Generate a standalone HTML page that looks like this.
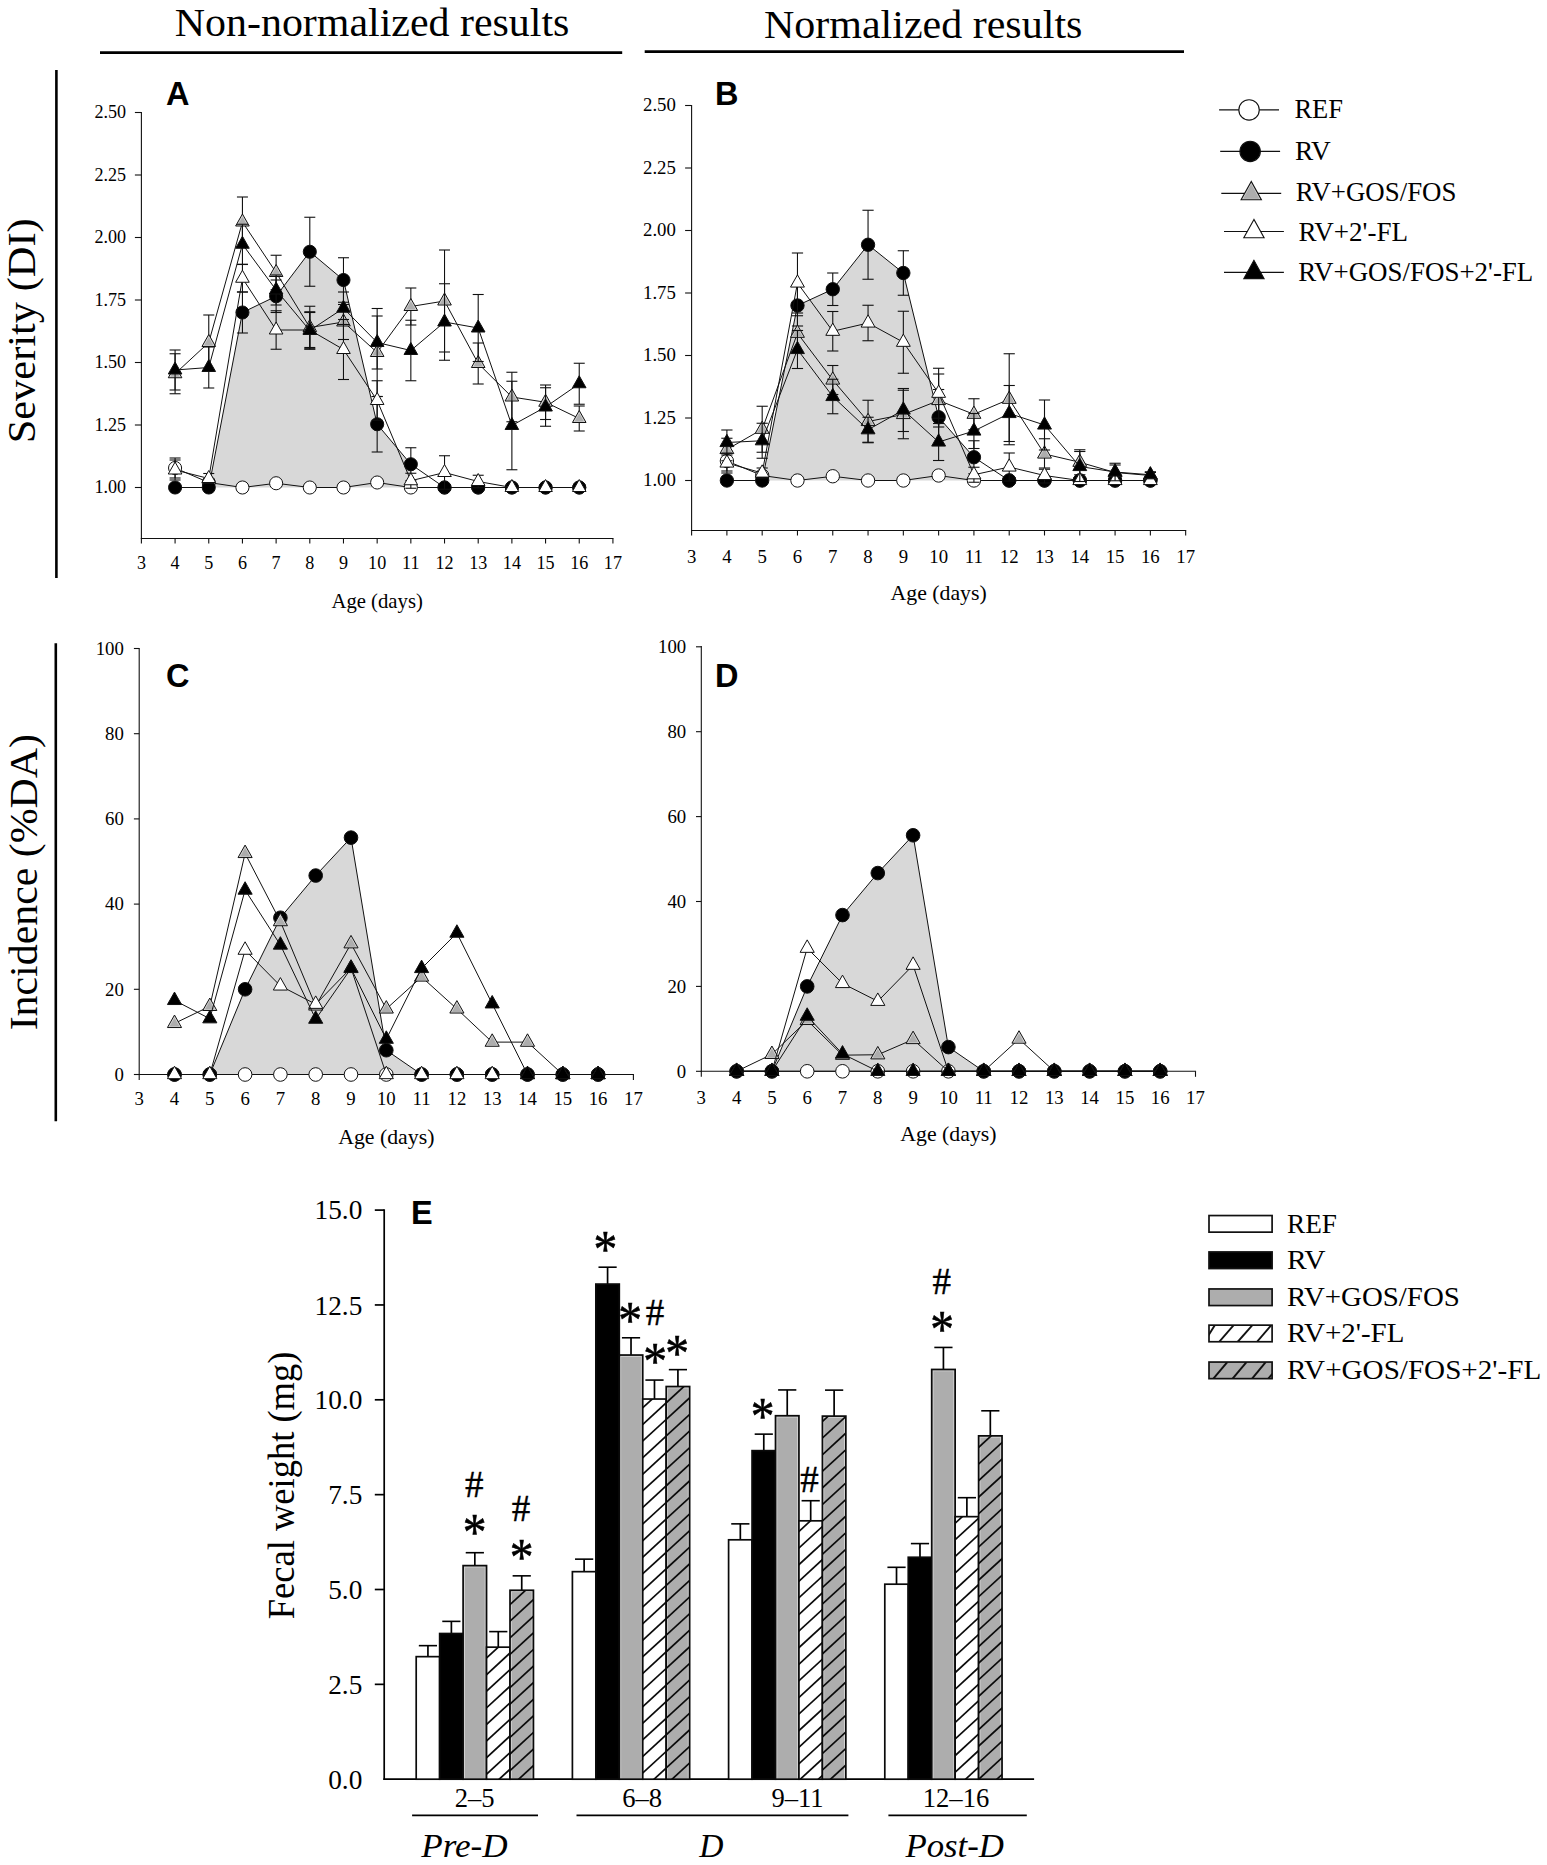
<!DOCTYPE html>
<html lang="en"><head><meta charset="utf-8"><title>Figure</title>
<style>
html,body{margin:0;padding:0;background:#fff;}
svg{display:block;}
.sf{font-family:"Liberation Serif", "Times New Roman", serif;}
.ss{font-family:"Liberation Sans", Arial, sans-serif;}
</style></head>
<body>
<svg width="1547" height="1865" viewBox="0 0 1547 1865">
<rect width="1547" height="1865" fill="#fff"/>
<text class="sf" x="174.8" y="35.5" font-size="41" text-anchor="start" textLength="394.6" lengthAdjust="spacingAndGlyphs" fill="#000">Non-normalized results</text>
<line x1="100" y1="52.6" x2="622.2" y2="52.6" stroke="#000" stroke-width="2.8" />
<text class="sf" x="764" y="37.6" font-size="41" text-anchor="start" textLength="318.4" lengthAdjust="spacingAndGlyphs" fill="#000">Normalized results</text>
<line x1="644.7" y1="51.6" x2="1184" y2="51.6" stroke="#000" stroke-width="2.8" />
<line x1="56.4" y1="70" x2="56.4" y2="578" stroke="#000" stroke-width="2.6" />
<text class="sf" x="35" y="443.3" font-size="40.8" text-anchor="start" textLength="225" lengthAdjust="spacingAndGlyphs" transform="rotate(-90 35 443.3)" fill="#000">Severity (DI)</text>
<line x1="55.8" y1="643.3" x2="55.8" y2="1121.2" stroke="#000" stroke-width="2.6" />
<text class="sf" x="36.9" y="1030.3" font-size="40.8" text-anchor="start" textLength="296.2" lengthAdjust="spacingAndGlyphs" transform="rotate(-90 36.9 1030.3)" fill="#000">Incidence (%DA)</text>
<polygon points="208.76,487.5 242.44,312.5 276.12,296.25 309.8,251.75 343.48,280 377.16,424.25 410.84,464.25 410.84,487.5" fill="#d8d8d8" stroke="none" stroke-width="1"/>
<line x1="141.4" y1="112" x2="141.4" y2="539.05" stroke="#111" stroke-width="1.1" />
<line x1="140.85" y1="538.5" x2="613.47" y2="538.5" stroke="#111" stroke-width="1.1" />
<line x1="141.4" y1="538.5" x2="141.4" y2="543.5" stroke="#111" stroke-width="1.1" />
<text class="sf" x="141.4" y="569" font-size="18.1" text-anchor="middle" fill="#000">3</text>
<line x1="175.08" y1="538.5" x2="175.08" y2="543.5" stroke="#111" stroke-width="1.1" />
<text class="sf" x="175.08" y="569" font-size="18.1" text-anchor="middle" fill="#000">4</text>
<line x1="208.76" y1="538.5" x2="208.76" y2="543.5" stroke="#111" stroke-width="1.1" />
<text class="sf" x="208.76" y="569" font-size="18.1" text-anchor="middle" fill="#000">5</text>
<line x1="242.44" y1="538.5" x2="242.44" y2="543.5" stroke="#111" stroke-width="1.1" />
<text class="sf" x="242.44" y="569" font-size="18.1" text-anchor="middle" fill="#000">6</text>
<line x1="276.12" y1="538.5" x2="276.12" y2="543.5" stroke="#111" stroke-width="1.1" />
<text class="sf" x="276.12" y="569" font-size="18.1" text-anchor="middle" fill="#000">7</text>
<line x1="309.8" y1="538.5" x2="309.8" y2="543.5" stroke="#111" stroke-width="1.1" />
<text class="sf" x="309.8" y="569" font-size="18.1" text-anchor="middle" fill="#000">8</text>
<line x1="343.48" y1="538.5" x2="343.48" y2="543.5" stroke="#111" stroke-width="1.1" />
<text class="sf" x="343.48" y="569" font-size="18.1" text-anchor="middle" fill="#000">9</text>
<line x1="377.16" y1="538.5" x2="377.16" y2="543.5" stroke="#111" stroke-width="1.1" />
<text class="sf" x="377.16" y="569" font-size="18.1" text-anchor="middle" fill="#000">10</text>
<line x1="410.84" y1="538.5" x2="410.84" y2="543.5" stroke="#111" stroke-width="1.1" />
<text class="sf" x="410.84" y="569" font-size="18.1" text-anchor="middle" fill="#000">11</text>
<line x1="444.52" y1="538.5" x2="444.52" y2="543.5" stroke="#111" stroke-width="1.1" />
<text class="sf" x="444.52" y="569" font-size="18.1" text-anchor="middle" fill="#000">12</text>
<line x1="478.2" y1="538.5" x2="478.2" y2="543.5" stroke="#111" stroke-width="1.1" />
<text class="sf" x="478.2" y="569" font-size="18.1" text-anchor="middle" fill="#000">13</text>
<line x1="511.88" y1="538.5" x2="511.88" y2="543.5" stroke="#111" stroke-width="1.1" />
<text class="sf" x="511.88" y="569" font-size="18.1" text-anchor="middle" fill="#000">14</text>
<line x1="545.56" y1="538.5" x2="545.56" y2="543.5" stroke="#111" stroke-width="1.1" />
<text class="sf" x="545.56" y="569" font-size="18.1" text-anchor="middle" fill="#000">15</text>
<line x1="579.24" y1="538.5" x2="579.24" y2="543.5" stroke="#111" stroke-width="1.1" />
<text class="sf" x="579.24" y="569" font-size="18.1" text-anchor="middle" fill="#000">16</text>
<line x1="612.92" y1="538.5" x2="612.92" y2="543.5" stroke="#111" stroke-width="1.1" />
<text class="sf" x="612.92" y="569" font-size="18.1" text-anchor="middle" fill="#000">17</text>
<line x1="134.9" y1="112.5" x2="141.4" y2="112.5" stroke="#111" stroke-width="1.1" />
<text class="sf" x="126.1" y="118.47" font-size="18.1" text-anchor="end" fill="#000">2.50</text>
<line x1="134.9" y1="175" x2="141.4" y2="175" stroke="#111" stroke-width="1.1" />
<text class="sf" x="126.1" y="180.97" font-size="18.1" text-anchor="end" fill="#000">2.25</text>
<line x1="134.9" y1="237.5" x2="141.4" y2="237.5" stroke="#111" stroke-width="1.1" />
<text class="sf" x="126.1" y="243.47" font-size="18.1" text-anchor="end" fill="#000">2.00</text>
<line x1="134.9" y1="300" x2="141.4" y2="300" stroke="#111" stroke-width="1.1" />
<text class="sf" x="126.1" y="305.97" font-size="18.1" text-anchor="end" fill="#000">1.75</text>
<line x1="134.9" y1="362.5" x2="141.4" y2="362.5" stroke="#111" stroke-width="1.1" />
<text class="sf" x="126.1" y="368.47" font-size="18.1" text-anchor="end" fill="#000">1.50</text>
<line x1="134.9" y1="425" x2="141.4" y2="425" stroke="#111" stroke-width="1.1" />
<text class="sf" x="126.1" y="430.97" font-size="18.1" text-anchor="end" fill="#000">1.25</text>
<line x1="134.9" y1="487.5" x2="141.4" y2="487.5" stroke="#111" stroke-width="1.1" />
<text class="sf" x="126.1" y="493.47" font-size="18.1" text-anchor="end" fill="#000">1.00</text>
<text class="sf" x="377.16" y="608" font-size="20.7" text-anchor="middle" fill="#000">Age (days)</text>
<text class="ss" x="165.9" y="105.4" font-size="32.5" text-anchor="start" font-weight="bold" fill="#000">A</text>
<polyline points="175.08,468 208.76,482.5 242.44,487.5 276.12,483.25 309.8,487.5 343.48,487.5 377.16,482.5 410.84,487.5 444.52,487.5 478.2,487.5 511.88,487.5 545.56,487.5 579.24,487.5" fill="none" stroke="#111" stroke-width="1.0" stroke-linejoin="round"/>
<line x1="175.08" y1="458" x2="175.08" y2="478" stroke="#111" stroke-width="1.1" />
<line x1="169.58" y1="458" x2="180.58" y2="458" stroke="#111" stroke-width="1.1" />
<line x1="169.58" y1="478" x2="180.58" y2="478" stroke="#111" stroke-width="1.1" />
<line x1="208.76" y1="478.75" x2="208.76" y2="486.25" stroke="#111" stroke-width="1.1" />
<line x1="203.26" y1="478.75" x2="214.26" y2="478.75" stroke="#111" stroke-width="1.1" />
<line x1="203.26" y1="486.25" x2="214.26" y2="486.25" stroke="#111" stroke-width="1.1" />
<circle cx="175.08" cy="468" r="6.55" fill="#fff" stroke="#111" stroke-width="1.0"/>
<circle cx="208.76" cy="482.5" r="6.55" fill="#fff" stroke="#111" stroke-width="1.0"/>
<circle cx="242.44" cy="487.5" r="6.55" fill="#fff" stroke="#111" stroke-width="1.0"/>
<circle cx="276.12" cy="483.25" r="6.55" fill="#fff" stroke="#111" stroke-width="1.0"/>
<circle cx="309.8" cy="487.5" r="6.55" fill="#fff" stroke="#111" stroke-width="1.0"/>
<circle cx="343.48" cy="487.5" r="6.55" fill="#fff" stroke="#111" stroke-width="1.0"/>
<circle cx="377.16" cy="482.5" r="6.55" fill="#fff" stroke="#111" stroke-width="1.0"/>
<circle cx="410.84" cy="487.5" r="6.55" fill="#fff" stroke="#111" stroke-width="1.0"/>
<circle cx="444.52" cy="487.5" r="6.55" fill="#fff" stroke="#111" stroke-width="1.0"/>
<circle cx="478.2" cy="487.5" r="6.55" fill="#fff" stroke="#111" stroke-width="1.0"/>
<circle cx="511.88" cy="487.5" r="6.55" fill="#fff" stroke="#111" stroke-width="1.0"/>
<circle cx="545.56" cy="487.5" r="6.55" fill="#fff" stroke="#111" stroke-width="1.0"/>
<circle cx="579.24" cy="487.5" r="6.55" fill="#fff" stroke="#111" stroke-width="1.0"/>
<polyline points="175.08,487.5 208.76,487.5 242.44,312.5 276.12,296.25 309.8,251.75 343.48,280 377.16,424.25 410.84,464.25 444.52,487.5 478.2,487.5 511.88,487.5 545.56,487.5 579.24,487.5" fill="none" stroke="#111" stroke-width="1.0" stroke-linejoin="round"/>
<line x1="242.44" y1="292" x2="242.44" y2="333" stroke="#111" stroke-width="1.1" />
<line x1="236.94" y1="292" x2="247.94" y2="292" stroke="#111" stroke-width="1.1" />
<line x1="236.94" y1="333" x2="247.94" y2="333" stroke="#111" stroke-width="1.1" />
<line x1="276.12" y1="280" x2="276.12" y2="312.5" stroke="#111" stroke-width="1.1" />
<line x1="270.62" y1="280" x2="281.62" y2="280" stroke="#111" stroke-width="1.1" />
<line x1="270.62" y1="312.5" x2="281.62" y2="312.5" stroke="#111" stroke-width="1.1" />
<line x1="309.8" y1="217.25" x2="309.8" y2="286.25" stroke="#111" stroke-width="1.1" />
<line x1="304.3" y1="217.25" x2="315.3" y2="217.25" stroke="#111" stroke-width="1.1" />
<line x1="304.3" y1="286.25" x2="315.3" y2="286.25" stroke="#111" stroke-width="1.1" />
<line x1="343.48" y1="257.75" x2="343.48" y2="302.25" stroke="#111" stroke-width="1.1" />
<line x1="337.98" y1="257.75" x2="348.98" y2="257.75" stroke="#111" stroke-width="1.1" />
<line x1="337.98" y1="302.25" x2="348.98" y2="302.25" stroke="#111" stroke-width="1.1" />
<line x1="377.16" y1="396.5" x2="377.16" y2="452" stroke="#111" stroke-width="1.1" />
<line x1="371.66" y1="396.5" x2="382.66" y2="396.5" stroke="#111" stroke-width="1.1" />
<line x1="371.66" y1="452" x2="382.66" y2="452" stroke="#111" stroke-width="1.1" />
<line x1="410.84" y1="447.75" x2="410.84" y2="480.75" stroke="#111" stroke-width="1.1" />
<line x1="405.34" y1="447.75" x2="416.34" y2="447.75" stroke="#111" stroke-width="1.1" />
<line x1="405.34" y1="480.75" x2="416.34" y2="480.75" stroke="#111" stroke-width="1.1" />
<circle cx="175.08" cy="487.5" r="6.55" fill="#000" stroke="#111" stroke-width="1.0"/>
<circle cx="208.76" cy="487.5" r="6.55" fill="#000" stroke="#111" stroke-width="1.0"/>
<circle cx="242.44" cy="312.5" r="6.55" fill="#000" stroke="#111" stroke-width="1.0"/>
<circle cx="276.12" cy="296.25" r="6.55" fill="#000" stroke="#111" stroke-width="1.0"/>
<circle cx="309.8" cy="251.75" r="6.55" fill="#000" stroke="#111" stroke-width="1.0"/>
<circle cx="343.48" cy="280" r="6.55" fill="#000" stroke="#111" stroke-width="1.0"/>
<circle cx="377.16" cy="424.25" r="6.55" fill="#000" stroke="#111" stroke-width="1.0"/>
<circle cx="410.84" cy="464.25" r="6.55" fill="#000" stroke="#111" stroke-width="1.0"/>
<circle cx="444.52" cy="487.5" r="6.55" fill="#000" stroke="#111" stroke-width="1.0"/>
<circle cx="478.2" cy="487.5" r="6.55" fill="#000" stroke="#111" stroke-width="1.0"/>
<circle cx="511.88" cy="487.5" r="6.55" fill="#000" stroke="#111" stroke-width="1.0"/>
<circle cx="545.56" cy="487.5" r="6.55" fill="#000" stroke="#111" stroke-width="1.0"/>
<circle cx="579.24" cy="487.5" r="6.55" fill="#000" stroke="#111" stroke-width="1.0"/>
<polyline points="175.08,373.75 208.76,342.5 242.44,222 276.12,272.5 309.8,327.5 343.48,322 377.16,352.5 410.84,306.5 444.52,301 478.2,363.5 511.88,397 545.56,402.25 579.24,418.5" fill="none" stroke="#111" stroke-width="1.0" stroke-linejoin="round"/>
<line x1="175.08" y1="353.75" x2="175.08" y2="393.75" stroke="#111" stroke-width="1.1" />
<line x1="169.58" y1="353.75" x2="180.58" y2="353.75" stroke="#111" stroke-width="1.1" />
<line x1="169.58" y1="393.75" x2="180.58" y2="393.75" stroke="#111" stroke-width="1.1" />
<line x1="208.76" y1="315" x2="208.76" y2="370" stroke="#111" stroke-width="1.1" />
<line x1="203.26" y1="315" x2="214.26" y2="315" stroke="#111" stroke-width="1.1" />
<line x1="203.26" y1="370" x2="214.26" y2="370" stroke="#111" stroke-width="1.1" />
<line x1="242.44" y1="197" x2="242.44" y2="247" stroke="#111" stroke-width="1.1" />
<line x1="236.94" y1="197" x2="247.94" y2="197" stroke="#111" stroke-width="1.1" />
<line x1="236.94" y1="247" x2="247.94" y2="247" stroke="#111" stroke-width="1.1" />
<line x1="276.12" y1="255.25" x2="276.12" y2="289.75" stroke="#111" stroke-width="1.1" />
<line x1="270.62" y1="255.25" x2="281.62" y2="255.25" stroke="#111" stroke-width="1.1" />
<line x1="270.62" y1="289.75" x2="281.62" y2="289.75" stroke="#111" stroke-width="1.1" />
<line x1="309.8" y1="306.25" x2="309.8" y2="348.75" stroke="#111" stroke-width="1.1" />
<line x1="304.3" y1="306.25" x2="315.3" y2="306.25" stroke="#111" stroke-width="1.1" />
<line x1="304.3" y1="348.75" x2="315.3" y2="348.75" stroke="#111" stroke-width="1.1" />
<line x1="343.48" y1="304.5" x2="343.48" y2="339.5" stroke="#111" stroke-width="1.1" />
<line x1="337.98" y1="304.5" x2="348.98" y2="304.5" stroke="#111" stroke-width="1.1" />
<line x1="337.98" y1="339.5" x2="348.98" y2="339.5" stroke="#111" stroke-width="1.1" />
<line x1="377.16" y1="308.5" x2="377.16" y2="396.5" stroke="#111" stroke-width="1.1" />
<line x1="371.66" y1="308.5" x2="382.66" y2="308.5" stroke="#111" stroke-width="1.1" />
<line x1="371.66" y1="396.5" x2="382.66" y2="396.5" stroke="#111" stroke-width="1.1" />
<line x1="410.84" y1="288" x2="410.84" y2="325" stroke="#111" stroke-width="1.1" />
<line x1="405.34" y1="288" x2="416.34" y2="288" stroke="#111" stroke-width="1.1" />
<line x1="405.34" y1="325" x2="416.34" y2="325" stroke="#111" stroke-width="1.1" />
<line x1="444.52" y1="250" x2="444.52" y2="352" stroke="#111" stroke-width="1.1" />
<line x1="439.02" y1="250" x2="450.02" y2="250" stroke="#111" stroke-width="1.1" />
<line x1="439.02" y1="352" x2="450.02" y2="352" stroke="#111" stroke-width="1.1" />
<line x1="478.2" y1="343" x2="478.2" y2="384" stroke="#111" stroke-width="1.1" />
<line x1="472.7" y1="343" x2="483.7" y2="343" stroke="#111" stroke-width="1.1" />
<line x1="472.7" y1="384" x2="483.7" y2="384" stroke="#111" stroke-width="1.1" />
<line x1="511.88" y1="372.25" x2="511.88" y2="421.75" stroke="#111" stroke-width="1.1" />
<line x1="506.38" y1="372.25" x2="517.38" y2="372.25" stroke="#111" stroke-width="1.1" />
<line x1="506.38" y1="421.75" x2="517.38" y2="421.75" stroke="#111" stroke-width="1.1" />
<line x1="545.56" y1="385" x2="545.56" y2="419.5" stroke="#111" stroke-width="1.1" />
<line x1="540.06" y1="385" x2="551.06" y2="385" stroke="#111" stroke-width="1.1" />
<line x1="540.06" y1="419.5" x2="551.06" y2="419.5" stroke="#111" stroke-width="1.1" />
<line x1="579.24" y1="406" x2="579.24" y2="431" stroke="#111" stroke-width="1.1" />
<line x1="573.74" y1="406" x2="584.74" y2="406" stroke="#111" stroke-width="1.1" />
<line x1="573.74" y1="431" x2="584.74" y2="431" stroke="#111" stroke-width="1.1" />
<polygon points="175.08,365.75 168.28,377.75 181.88,377.75" fill="#d4d4d4" stroke="#111" stroke-width="1.0"/>
<polygon points="175.08,368.45 170.41,376.7 179.76,376.7" fill="#adadad" stroke="none" stroke-width="1"/>
<polygon points="208.76,334.5 201.96,346.5 215.56,346.5" fill="#d4d4d4" stroke="#111" stroke-width="1.0"/>
<polygon points="208.76,337.2 204.08,345.45 213.44,345.45" fill="#adadad" stroke="none" stroke-width="1"/>
<polygon points="242.44,214 235.64,226 249.24,226" fill="#d4d4d4" stroke="#111" stroke-width="1.0"/>
<polygon points="242.44,216.7 237.76,224.95 247.12,224.95" fill="#adadad" stroke="none" stroke-width="1"/>
<polygon points="276.12,264.5 269.32,276.5 282.92,276.5" fill="#d4d4d4" stroke="#111" stroke-width="1.0"/>
<polygon points="276.12,267.2 271.44,275.45 280.8,275.45" fill="#adadad" stroke="none" stroke-width="1"/>
<polygon points="309.8,319.5 303,331.5 316.6,331.5" fill="#d4d4d4" stroke="#111" stroke-width="1.0"/>
<polygon points="309.8,322.2 305.12,330.45 314.48,330.45" fill="#adadad" stroke="none" stroke-width="1"/>
<polygon points="343.48,314 336.68,326 350.28,326" fill="#d4d4d4" stroke="#111" stroke-width="1.0"/>
<polygon points="343.48,316.7 338.81,324.95 348.16,324.95" fill="#adadad" stroke="none" stroke-width="1"/>
<polygon points="377.16,344.5 370.36,356.5 383.96,356.5" fill="#d4d4d4" stroke="#111" stroke-width="1.0"/>
<polygon points="377.16,347.2 372.48,355.45 381.83,355.45" fill="#adadad" stroke="none" stroke-width="1"/>
<polygon points="410.84,298.5 404.04,310.5 417.64,310.5" fill="#d4d4d4" stroke="#111" stroke-width="1.0"/>
<polygon points="410.84,301.2 406.17,309.45 415.52,309.45" fill="#adadad" stroke="none" stroke-width="1"/>
<polygon points="444.52,293 437.72,305 451.32,305" fill="#d4d4d4" stroke="#111" stroke-width="1.0"/>
<polygon points="444.52,295.7 439.84,303.95 449.19,303.95" fill="#adadad" stroke="none" stroke-width="1"/>
<polygon points="478.2,355.5 471.4,367.5 485,367.5" fill="#d4d4d4" stroke="#111" stroke-width="1.0"/>
<polygon points="478.2,358.2 473.53,366.45 482.88,366.45" fill="#adadad" stroke="none" stroke-width="1"/>
<polygon points="511.88,389 505.08,401 518.68,401" fill="#d4d4d4" stroke="#111" stroke-width="1.0"/>
<polygon points="511.88,391.7 507.2,399.95 516.55,399.95" fill="#adadad" stroke="none" stroke-width="1"/>
<polygon points="545.56,394.25 538.76,406.25 552.36,406.25" fill="#d4d4d4" stroke="#111" stroke-width="1.0"/>
<polygon points="545.56,396.95 540.88,405.2 550.23,405.2" fill="#adadad" stroke="none" stroke-width="1"/>
<polygon points="579.24,410.5 572.44,422.5 586.04,422.5" fill="#d4d4d4" stroke="#111" stroke-width="1.0"/>
<polygon points="579.24,413.2 574.57,421.45 583.91,421.45" fill="#adadad" stroke="none" stroke-width="1"/>
<polyline points="175.08,470 208.76,478.5 242.44,278.25 276.12,330 309.8,330 343.48,349.5 377.16,400.5 410.84,480.75 444.52,472.5 478.2,481.5 511.88,487.5 545.56,487.5 579.24,487.5" fill="none" stroke="#111" stroke-width="1.0" stroke-linejoin="round"/>
<line x1="175.08" y1="460" x2="175.08" y2="480" stroke="#111" stroke-width="1.1" />
<line x1="169.58" y1="460" x2="180.58" y2="460" stroke="#111" stroke-width="1.1" />
<line x1="169.58" y1="480" x2="180.58" y2="480" stroke="#111" stroke-width="1.1" />
<line x1="208.76" y1="473.5" x2="208.76" y2="483.5" stroke="#111" stroke-width="1.1" />
<line x1="203.26" y1="473.5" x2="214.26" y2="473.5" stroke="#111" stroke-width="1.1" />
<line x1="203.26" y1="483.5" x2="214.26" y2="483.5" stroke="#111" stroke-width="1.1" />
<line x1="242.44" y1="264.5" x2="242.44" y2="292" stroke="#111" stroke-width="1.1" />
<line x1="236.94" y1="264.5" x2="247.94" y2="264.5" stroke="#111" stroke-width="1.1" />
<line x1="236.94" y1="292" x2="247.94" y2="292" stroke="#111" stroke-width="1.1" />
<line x1="276.12" y1="310.75" x2="276.12" y2="349.25" stroke="#111" stroke-width="1.1" />
<line x1="270.62" y1="310.75" x2="281.62" y2="310.75" stroke="#111" stroke-width="1.1" />
<line x1="270.62" y1="349.25" x2="281.62" y2="349.25" stroke="#111" stroke-width="1.1" />
<line x1="309.8" y1="312.5" x2="309.8" y2="347.5" stroke="#111" stroke-width="1.1" />
<line x1="304.3" y1="312.5" x2="315.3" y2="312.5" stroke="#111" stroke-width="1.1" />
<line x1="304.3" y1="347.5" x2="315.3" y2="347.5" stroke="#111" stroke-width="1.1" />
<line x1="343.48" y1="319.5" x2="343.48" y2="379.5" stroke="#111" stroke-width="1.1" />
<line x1="337.98" y1="319.5" x2="348.98" y2="319.5" stroke="#111" stroke-width="1.1" />
<line x1="337.98" y1="379.5" x2="348.98" y2="379.5" stroke="#111" stroke-width="1.1" />
<line x1="377.16" y1="380.75" x2="377.16" y2="420.25" stroke="#111" stroke-width="1.1" />
<line x1="371.66" y1="380.75" x2="382.66" y2="380.75" stroke="#111" stroke-width="1.1" />
<line x1="371.66" y1="420.25" x2="382.66" y2="420.25" stroke="#111" stroke-width="1.1" />
<line x1="410.84" y1="473.25" x2="410.84" y2="488.25" stroke="#111" stroke-width="1.1" />
<line x1="405.34" y1="473.25" x2="416.34" y2="473.25" stroke="#111" stroke-width="1.1" />
<line x1="405.34" y1="488.25" x2="416.34" y2="488.25" stroke="#111" stroke-width="1.1" />
<line x1="444.52" y1="455.75" x2="444.52" y2="489.25" stroke="#111" stroke-width="1.1" />
<line x1="439.02" y1="455.75" x2="450.02" y2="455.75" stroke="#111" stroke-width="1.1" />
<line x1="439.02" y1="489.25" x2="450.02" y2="489.25" stroke="#111" stroke-width="1.1" />
<line x1="478.2" y1="475.25" x2="478.2" y2="487.75" stroke="#111" stroke-width="1.1" />
<line x1="472.7" y1="475.25" x2="483.7" y2="475.25" stroke="#111" stroke-width="1.1" />
<line x1="472.7" y1="487.75" x2="483.7" y2="487.75" stroke="#111" stroke-width="1.1" />
<polygon points="175.08,462 168.28,474 181.88,474" fill="#fff" stroke="#111" stroke-width="1.0"/>
<polygon points="208.76,470.5 201.96,482.5 215.56,482.5" fill="#fff" stroke="#111" stroke-width="1.0"/>
<polygon points="242.44,270.25 235.64,282.25 249.24,282.25" fill="#fff" stroke="#111" stroke-width="1.0"/>
<polygon points="276.12,322 269.32,334 282.92,334" fill="#fff" stroke="#111" stroke-width="1.0"/>
<polygon points="309.8,322 303,334 316.6,334" fill="#fff" stroke="#111" stroke-width="1.0"/>
<polygon points="343.48,341.5 336.68,353.5 350.28,353.5" fill="#fff" stroke="#111" stroke-width="1.0"/>
<polygon points="377.16,392.5 370.36,404.5 383.96,404.5" fill="#fff" stroke="#111" stroke-width="1.0"/>
<polygon points="410.84,472.75 404.04,484.75 417.64,484.75" fill="#fff" stroke="#111" stroke-width="1.0"/>
<polygon points="444.52,464.5 437.72,476.5 451.32,476.5" fill="#fff" stroke="#111" stroke-width="1.0"/>
<polygon points="478.2,473.5 471.4,485.5 485,485.5" fill="#fff" stroke="#111" stroke-width="1.0"/>
<polygon points="511.88,479.5 505.08,491.5 518.68,491.5" fill="#fff" stroke="#111" stroke-width="1.0"/>
<polygon points="545.56,479.5 538.76,491.5 552.36,491.5" fill="#fff" stroke="#111" stroke-width="1.0"/>
<polygon points="579.24,479.5 572.44,491.5 586.04,491.5" fill="#fff" stroke="#111" stroke-width="1.0"/>
<polyline points="175.08,370 208.76,367.5 242.44,244.25 276.12,290 309.8,330.5 343.48,308.25 377.16,342.5 410.84,350.5 444.52,322 478.2,328 511.88,425.5 545.56,407 579.24,383.75" fill="none" stroke="#111" stroke-width="1.0" stroke-linejoin="round"/>
<line x1="175.08" y1="350" x2="175.08" y2="390" stroke="#111" stroke-width="1.1" />
<line x1="169.58" y1="350" x2="180.58" y2="350" stroke="#111" stroke-width="1.1" />
<line x1="169.58" y1="390" x2="180.58" y2="390" stroke="#111" stroke-width="1.1" />
<line x1="208.76" y1="347" x2="208.76" y2="388" stroke="#111" stroke-width="1.1" />
<line x1="203.26" y1="347" x2="214.26" y2="347" stroke="#111" stroke-width="1.1" />
<line x1="203.26" y1="388" x2="214.26" y2="388" stroke="#111" stroke-width="1.1" />
<line x1="242.44" y1="224.25" x2="242.44" y2="264.25" stroke="#111" stroke-width="1.1" />
<line x1="236.94" y1="224.25" x2="247.94" y2="224.25" stroke="#111" stroke-width="1.1" />
<line x1="236.94" y1="264.25" x2="247.94" y2="264.25" stroke="#111" stroke-width="1.1" />
<line x1="276.12" y1="275" x2="276.12" y2="305" stroke="#111" stroke-width="1.1" />
<line x1="270.62" y1="275" x2="281.62" y2="275" stroke="#111" stroke-width="1.1" />
<line x1="270.62" y1="305" x2="281.62" y2="305" stroke="#111" stroke-width="1.1" />
<line x1="309.8" y1="311.75" x2="309.8" y2="349.25" stroke="#111" stroke-width="1.1" />
<line x1="304.3" y1="311.75" x2="315.3" y2="311.75" stroke="#111" stroke-width="1.1" />
<line x1="304.3" y1="349.25" x2="315.3" y2="349.25" stroke="#111" stroke-width="1.1" />
<line x1="343.48" y1="292" x2="343.48" y2="324.5" stroke="#111" stroke-width="1.1" />
<line x1="337.98" y1="292" x2="348.98" y2="292" stroke="#111" stroke-width="1.1" />
<line x1="337.98" y1="324.5" x2="348.98" y2="324.5" stroke="#111" stroke-width="1.1" />
<line x1="377.16" y1="316" x2="377.16" y2="369" stroke="#111" stroke-width="1.1" />
<line x1="371.66" y1="316" x2="382.66" y2="316" stroke="#111" stroke-width="1.1" />
<line x1="371.66" y1="369" x2="382.66" y2="369" stroke="#111" stroke-width="1.1" />
<line x1="410.84" y1="320.25" x2="410.84" y2="380.75" stroke="#111" stroke-width="1.1" />
<line x1="405.34" y1="320.25" x2="416.34" y2="320.25" stroke="#111" stroke-width="1.1" />
<line x1="405.34" y1="380.75" x2="416.34" y2="380.75" stroke="#111" stroke-width="1.1" />
<line x1="444.52" y1="283.75" x2="444.52" y2="360.25" stroke="#111" stroke-width="1.1" />
<line x1="439.02" y1="283.75" x2="450.02" y2="283.75" stroke="#111" stroke-width="1.1" />
<line x1="439.02" y1="360.25" x2="450.02" y2="360.25" stroke="#111" stroke-width="1.1" />
<line x1="478.2" y1="294.5" x2="478.2" y2="361.5" stroke="#111" stroke-width="1.1" />
<line x1="472.7" y1="294.5" x2="483.7" y2="294.5" stroke="#111" stroke-width="1.1" />
<line x1="472.7" y1="361.5" x2="483.7" y2="361.5" stroke="#111" stroke-width="1.1" />
<line x1="511.88" y1="381.25" x2="511.88" y2="469.75" stroke="#111" stroke-width="1.1" />
<line x1="506.38" y1="381.25" x2="517.38" y2="381.25" stroke="#111" stroke-width="1.1" />
<line x1="506.38" y1="469.75" x2="517.38" y2="469.75" stroke="#111" stroke-width="1.1" />
<line x1="545.56" y1="387.75" x2="545.56" y2="426.25" stroke="#111" stroke-width="1.1" />
<line x1="540.06" y1="387.75" x2="551.06" y2="387.75" stroke="#111" stroke-width="1.1" />
<line x1="540.06" y1="426.25" x2="551.06" y2="426.25" stroke="#111" stroke-width="1.1" />
<line x1="579.24" y1="363.25" x2="579.24" y2="404.25" stroke="#111" stroke-width="1.1" />
<line x1="573.74" y1="363.25" x2="584.74" y2="363.25" stroke="#111" stroke-width="1.1" />
<line x1="573.74" y1="404.25" x2="584.74" y2="404.25" stroke="#111" stroke-width="1.1" />
<polygon points="175.08,362 168.28,374 181.88,374" fill="#000" stroke="#111" stroke-width="1.0"/>
<polygon points="208.76,359.5 201.96,371.5 215.56,371.5" fill="#000" stroke="#111" stroke-width="1.0"/>
<polygon points="242.44,236.25 235.64,248.25 249.24,248.25" fill="#000" stroke="#111" stroke-width="1.0"/>
<polygon points="276.12,282 269.32,294 282.92,294" fill="#000" stroke="#111" stroke-width="1.0"/>
<polygon points="309.8,322.5 303,334.5 316.6,334.5" fill="#000" stroke="#111" stroke-width="1.0"/>
<polygon points="343.48,300.25 336.68,312.25 350.28,312.25" fill="#000" stroke="#111" stroke-width="1.0"/>
<polygon points="377.16,334.5 370.36,346.5 383.96,346.5" fill="#000" stroke="#111" stroke-width="1.0"/>
<polygon points="410.84,342.5 404.04,354.5 417.64,354.5" fill="#000" stroke="#111" stroke-width="1.0"/>
<polygon points="444.52,314 437.72,326 451.32,326" fill="#000" stroke="#111" stroke-width="1.0"/>
<polygon points="478.2,320 471.4,332 485,332" fill="#000" stroke="#111" stroke-width="1.0"/>
<polygon points="511.88,417.5 505.08,429.5 518.68,429.5" fill="#000" stroke="#111" stroke-width="1.0"/>
<polygon points="545.56,399 538.76,411 552.36,411" fill="#000" stroke="#111" stroke-width="1.0"/>
<polygon points="579.24,375.75 572.44,387.75 586.04,387.75" fill="#000" stroke="#111" stroke-width="1.0"/>
<polygon points="762.18,480.5 797.47,305.5 832.76,289.25 868.05,244.75 903.34,273 938.63,417.25 973.92,457.25 973.92,480.5" fill="#d8d8d8" stroke="none" stroke-width="1"/>
<line x1="691.6" y1="105" x2="691.6" y2="531.05" stroke="#111" stroke-width="1.1" />
<line x1="691.05" y1="530.5" x2="1186.21" y2="530.5" stroke="#111" stroke-width="1.1" />
<line x1="691.6" y1="530.5" x2="691.6" y2="535.5" stroke="#111" stroke-width="1.1" />
<text class="sf" x="691.6" y="563" font-size="18.8" text-anchor="middle" fill="#000">3</text>
<line x1="726.89" y1="530.5" x2="726.89" y2="535.5" stroke="#111" stroke-width="1.1" />
<text class="sf" x="726.89" y="563" font-size="18.8" text-anchor="middle" fill="#000">4</text>
<line x1="762.18" y1="530.5" x2="762.18" y2="535.5" stroke="#111" stroke-width="1.1" />
<text class="sf" x="762.18" y="563" font-size="18.8" text-anchor="middle" fill="#000">5</text>
<line x1="797.47" y1="530.5" x2="797.47" y2="535.5" stroke="#111" stroke-width="1.1" />
<text class="sf" x="797.47" y="563" font-size="18.8" text-anchor="middle" fill="#000">6</text>
<line x1="832.76" y1="530.5" x2="832.76" y2="535.5" stroke="#111" stroke-width="1.1" />
<text class="sf" x="832.76" y="563" font-size="18.8" text-anchor="middle" fill="#000">7</text>
<line x1="868.05" y1="530.5" x2="868.05" y2="535.5" stroke="#111" stroke-width="1.1" />
<text class="sf" x="868.05" y="563" font-size="18.8" text-anchor="middle" fill="#000">8</text>
<line x1="903.34" y1="530.5" x2="903.34" y2="535.5" stroke="#111" stroke-width="1.1" />
<text class="sf" x="903.34" y="563" font-size="18.8" text-anchor="middle" fill="#000">9</text>
<line x1="938.63" y1="530.5" x2="938.63" y2="535.5" stroke="#111" stroke-width="1.1" />
<text class="sf" x="938.63" y="563" font-size="18.8" text-anchor="middle" fill="#000">10</text>
<line x1="973.92" y1="530.5" x2="973.92" y2="535.5" stroke="#111" stroke-width="1.1" />
<text class="sf" x="973.92" y="563" font-size="18.8" text-anchor="middle" fill="#000">11</text>
<line x1="1009.21" y1="530.5" x2="1009.21" y2="535.5" stroke="#111" stroke-width="1.1" />
<text class="sf" x="1009.21" y="563" font-size="18.8" text-anchor="middle" fill="#000">12</text>
<line x1="1044.5" y1="530.5" x2="1044.5" y2="535.5" stroke="#111" stroke-width="1.1" />
<text class="sf" x="1044.5" y="563" font-size="18.8" text-anchor="middle" fill="#000">13</text>
<line x1="1079.79" y1="530.5" x2="1079.79" y2="535.5" stroke="#111" stroke-width="1.1" />
<text class="sf" x="1079.79" y="563" font-size="18.8" text-anchor="middle" fill="#000">14</text>
<line x1="1115.08" y1="530.5" x2="1115.08" y2="535.5" stroke="#111" stroke-width="1.1" />
<text class="sf" x="1115.08" y="563" font-size="18.8" text-anchor="middle" fill="#000">15</text>
<line x1="1150.37" y1="530.5" x2="1150.37" y2="535.5" stroke="#111" stroke-width="1.1" />
<text class="sf" x="1150.37" y="563" font-size="18.8" text-anchor="middle" fill="#000">16</text>
<line x1="1185.66" y1="530.5" x2="1185.66" y2="535.5" stroke="#111" stroke-width="1.1" />
<text class="sf" x="1185.66" y="563" font-size="18.8" text-anchor="middle" fill="#000">17</text>
<line x1="685.1" y1="105.5" x2="691.6" y2="105.5" stroke="#111" stroke-width="1.1" />
<text class="sf" x="675.9" y="111.1" font-size="18.8" text-anchor="end" fill="#000">2.50</text>
<line x1="685.1" y1="168" x2="691.6" y2="168" stroke="#111" stroke-width="1.1" />
<text class="sf" x="675.9" y="173.6" font-size="18.8" text-anchor="end" fill="#000">2.25</text>
<line x1="685.1" y1="230.5" x2="691.6" y2="230.5" stroke="#111" stroke-width="1.1" />
<text class="sf" x="675.9" y="236.1" font-size="18.8" text-anchor="end" fill="#000">2.00</text>
<line x1="685.1" y1="293" x2="691.6" y2="293" stroke="#111" stroke-width="1.1" />
<text class="sf" x="675.9" y="298.6" font-size="18.8" text-anchor="end" fill="#000">1.75</text>
<line x1="685.1" y1="355.5" x2="691.6" y2="355.5" stroke="#111" stroke-width="1.1" />
<text class="sf" x="675.9" y="361.1" font-size="18.8" text-anchor="end" fill="#000">1.50</text>
<line x1="685.1" y1="418" x2="691.6" y2="418" stroke="#111" stroke-width="1.1" />
<text class="sf" x="675.9" y="423.6" font-size="18.8" text-anchor="end" fill="#000">1.25</text>
<line x1="685.1" y1="480.5" x2="691.6" y2="480.5" stroke="#111" stroke-width="1.1" />
<text class="sf" x="675.9" y="486.1" font-size="18.8" text-anchor="end" fill="#000">1.00</text>
<text class="sf" x="938.63" y="600.4" font-size="21.8" text-anchor="middle" fill="#000">Age (days)</text>
<text class="ss" x="715" y="105.3" font-size="32.5" text-anchor="start" font-weight="bold" fill="#000">B</text>
<polyline points="726.89,461 762.18,475.5 797.47,480.5 832.76,476.25 868.05,480.5 903.34,480.5 938.63,475.5 973.92,480.5 1009.21,480.5 1044.5,480.5 1079.79,480.5 1115.08,480.5 1150.37,480.5" fill="none" stroke="#111" stroke-width="1.0" stroke-linejoin="round"/>
<line x1="726.89" y1="451" x2="726.89" y2="471" stroke="#111" stroke-width="1.1" />
<line x1="721.28" y1="451" x2="732.5" y2="451" stroke="#111" stroke-width="1.1" />
<line x1="721.28" y1="471" x2="732.5" y2="471" stroke="#111" stroke-width="1.1" />
<line x1="762.18" y1="471.75" x2="762.18" y2="479.25" stroke="#111" stroke-width="1.1" />
<line x1="756.57" y1="471.75" x2="767.79" y2="471.75" stroke="#111" stroke-width="1.1" />
<line x1="756.57" y1="479.25" x2="767.79" y2="479.25" stroke="#111" stroke-width="1.1" />
<circle cx="726.89" cy="461" r="6.68" fill="#fff" stroke="#111" stroke-width="1.0"/>
<circle cx="762.18" cy="475.5" r="6.68" fill="#fff" stroke="#111" stroke-width="1.0"/>
<circle cx="797.47" cy="480.5" r="6.68" fill="#fff" stroke="#111" stroke-width="1.0"/>
<circle cx="832.76" cy="476.25" r="6.68" fill="#fff" stroke="#111" stroke-width="1.0"/>
<circle cx="868.05" cy="480.5" r="6.68" fill="#fff" stroke="#111" stroke-width="1.0"/>
<circle cx="903.34" cy="480.5" r="6.68" fill="#fff" stroke="#111" stroke-width="1.0"/>
<circle cx="938.63" cy="475.5" r="6.68" fill="#fff" stroke="#111" stroke-width="1.0"/>
<circle cx="973.92" cy="480.5" r="6.68" fill="#fff" stroke="#111" stroke-width="1.0"/>
<circle cx="1009.21" cy="480.5" r="6.68" fill="#fff" stroke="#111" stroke-width="1.0"/>
<circle cx="1044.5" cy="480.5" r="6.68" fill="#fff" stroke="#111" stroke-width="1.0"/>
<circle cx="1079.79" cy="480.5" r="6.68" fill="#fff" stroke="#111" stroke-width="1.0"/>
<circle cx="1115.08" cy="480.5" r="6.68" fill="#fff" stroke="#111" stroke-width="1.0"/>
<circle cx="1150.37" cy="480.5" r="6.68" fill="#fff" stroke="#111" stroke-width="1.0"/>
<polyline points="726.89,480.5 762.18,480.5 797.47,305.5 832.76,289.25 868.05,244.75 903.34,273 938.63,417.25 973.92,457.25 1009.21,480.5 1044.5,480.5 1079.79,480.5 1115.08,480.5 1150.37,480.5" fill="none" stroke="#111" stroke-width="1.0" stroke-linejoin="round"/>
<line x1="797.47" y1="285" x2="797.47" y2="326" stroke="#111" stroke-width="1.1" />
<line x1="791.86" y1="285" x2="803.08" y2="285" stroke="#111" stroke-width="1.1" />
<line x1="791.86" y1="326" x2="803.08" y2="326" stroke="#111" stroke-width="1.1" />
<line x1="832.76" y1="273" x2="832.76" y2="305.5" stroke="#111" stroke-width="1.1" />
<line x1="827.15" y1="273" x2="838.37" y2="273" stroke="#111" stroke-width="1.1" />
<line x1="827.15" y1="305.5" x2="838.37" y2="305.5" stroke="#111" stroke-width="1.1" />
<line x1="868.05" y1="210.25" x2="868.05" y2="279.25" stroke="#111" stroke-width="1.1" />
<line x1="862.44" y1="210.25" x2="873.66" y2="210.25" stroke="#111" stroke-width="1.1" />
<line x1="862.44" y1="279.25" x2="873.66" y2="279.25" stroke="#111" stroke-width="1.1" />
<line x1="903.34" y1="250.75" x2="903.34" y2="295.25" stroke="#111" stroke-width="1.1" />
<line x1="897.73" y1="250.75" x2="908.95" y2="250.75" stroke="#111" stroke-width="1.1" />
<line x1="897.73" y1="295.25" x2="908.95" y2="295.25" stroke="#111" stroke-width="1.1" />
<line x1="938.63" y1="389.5" x2="938.63" y2="445" stroke="#111" stroke-width="1.1" />
<line x1="933.02" y1="389.5" x2="944.24" y2="389.5" stroke="#111" stroke-width="1.1" />
<line x1="933.02" y1="445" x2="944.24" y2="445" stroke="#111" stroke-width="1.1" />
<line x1="973.92" y1="440.75" x2="973.92" y2="473.75" stroke="#111" stroke-width="1.1" />
<line x1="968.31" y1="440.75" x2="979.53" y2="440.75" stroke="#111" stroke-width="1.1" />
<line x1="968.31" y1="473.75" x2="979.53" y2="473.75" stroke="#111" stroke-width="1.1" />
<circle cx="726.89" cy="480.5" r="6.68" fill="#000" stroke="#111" stroke-width="1.0"/>
<circle cx="762.18" cy="480.5" r="6.68" fill="#000" stroke="#111" stroke-width="1.0"/>
<circle cx="797.47" cy="305.5" r="6.68" fill="#000" stroke="#111" stroke-width="1.0"/>
<circle cx="832.76" cy="289.25" r="6.68" fill="#000" stroke="#111" stroke-width="1.0"/>
<circle cx="868.05" cy="244.75" r="6.68" fill="#000" stroke="#111" stroke-width="1.0"/>
<circle cx="903.34" cy="273" r="6.68" fill="#000" stroke="#111" stroke-width="1.0"/>
<circle cx="938.63" cy="417.25" r="6.68" fill="#000" stroke="#111" stroke-width="1.0"/>
<circle cx="973.92" cy="457.25" r="6.68" fill="#000" stroke="#111" stroke-width="1.0"/>
<circle cx="1009.21" cy="480.5" r="6.68" fill="#000" stroke="#111" stroke-width="1.0"/>
<circle cx="1044.5" cy="480.5" r="6.68" fill="#000" stroke="#111" stroke-width="1.0"/>
<circle cx="1079.79" cy="480.5" r="6.68" fill="#000" stroke="#111" stroke-width="1.0"/>
<circle cx="1115.08" cy="480.5" r="6.68" fill="#000" stroke="#111" stroke-width="1.0"/>
<circle cx="1150.37" cy="480.5" r="6.68" fill="#000" stroke="#111" stroke-width="1.0"/>
<polyline points="726.89,449.5 762.18,429.25 797.47,333.25 832.76,380 868.05,421.5 903.34,414.5 938.63,400.5 973.92,414.25 1009.21,399.25 1044.5,454 1079.79,462.25 1115.08,472.5 1150.37,475.5" fill="none" stroke="#111" stroke-width="1.0" stroke-linejoin="round"/>
<line x1="726.89" y1="438.25" x2="726.89" y2="460.75" stroke="#111" stroke-width="1.1" />
<line x1="721.28" y1="438.25" x2="732.5" y2="438.25" stroke="#111" stroke-width="1.1" />
<line x1="721.28" y1="460.75" x2="732.5" y2="460.75" stroke="#111" stroke-width="1.1" />
<line x1="762.18" y1="406.25" x2="762.18" y2="452.25" stroke="#111" stroke-width="1.1" />
<line x1="756.57" y1="406.25" x2="767.79" y2="406.25" stroke="#111" stroke-width="1.1" />
<line x1="756.57" y1="452.25" x2="767.79" y2="452.25" stroke="#111" stroke-width="1.1" />
<line x1="797.47" y1="315.75" x2="797.47" y2="350.75" stroke="#111" stroke-width="1.1" />
<line x1="791.86" y1="315.75" x2="803.08" y2="315.75" stroke="#111" stroke-width="1.1" />
<line x1="791.86" y1="350.75" x2="803.08" y2="350.75" stroke="#111" stroke-width="1.1" />
<line x1="832.76" y1="365.5" x2="832.76" y2="394.5" stroke="#111" stroke-width="1.1" />
<line x1="827.15" y1="365.5" x2="838.37" y2="365.5" stroke="#111" stroke-width="1.1" />
<line x1="827.15" y1="394.5" x2="838.37" y2="394.5" stroke="#111" stroke-width="1.1" />
<line x1="868.05" y1="400.25" x2="868.05" y2="442.75" stroke="#111" stroke-width="1.1" />
<line x1="862.44" y1="400.25" x2="873.66" y2="400.25" stroke="#111" stroke-width="1.1" />
<line x1="862.44" y1="442.75" x2="873.66" y2="442.75" stroke="#111" stroke-width="1.1" />
<line x1="903.34" y1="390.25" x2="903.34" y2="438.75" stroke="#111" stroke-width="1.1" />
<line x1="897.73" y1="390.25" x2="908.95" y2="390.25" stroke="#111" stroke-width="1.1" />
<line x1="897.73" y1="438.75" x2="908.95" y2="438.75" stroke="#111" stroke-width="1.1" />
<line x1="938.63" y1="374" x2="938.63" y2="427" stroke="#111" stroke-width="1.1" />
<line x1="933.02" y1="374" x2="944.24" y2="374" stroke="#111" stroke-width="1.1" />
<line x1="933.02" y1="427" x2="944.24" y2="427" stroke="#111" stroke-width="1.1" />
<line x1="973.92" y1="398.75" x2="973.92" y2="429.75" stroke="#111" stroke-width="1.1" />
<line x1="968.31" y1="398.75" x2="979.53" y2="398.75" stroke="#111" stroke-width="1.1" />
<line x1="968.31" y1="429.75" x2="979.53" y2="429.75" stroke="#111" stroke-width="1.1" />
<line x1="1009.21" y1="353.75" x2="1009.21" y2="444.75" stroke="#111" stroke-width="1.1" />
<line x1="1003.6" y1="353.75" x2="1014.82" y2="353.75" stroke="#111" stroke-width="1.1" />
<line x1="1003.6" y1="444.75" x2="1014.82" y2="444.75" stroke="#111" stroke-width="1.1" />
<line x1="1044.5" y1="438.75" x2="1044.5" y2="469.25" stroke="#111" stroke-width="1.1" />
<line x1="1038.89" y1="438.75" x2="1050.11" y2="438.75" stroke="#111" stroke-width="1.1" />
<line x1="1038.89" y1="469.25" x2="1050.11" y2="469.25" stroke="#111" stroke-width="1.1" />
<line x1="1079.79" y1="449.75" x2="1079.79" y2="474.75" stroke="#111" stroke-width="1.1" />
<line x1="1074.18" y1="449.75" x2="1085.4" y2="449.75" stroke="#111" stroke-width="1.1" />
<line x1="1074.18" y1="474.75" x2="1085.4" y2="474.75" stroke="#111" stroke-width="1.1" />
<line x1="1115.08" y1="465" x2="1115.08" y2="480" stroke="#111" stroke-width="1.1" />
<line x1="1109.47" y1="465" x2="1120.69" y2="465" stroke="#111" stroke-width="1.1" />
<line x1="1109.47" y1="480" x2="1120.69" y2="480" stroke="#111" stroke-width="1.1" />
<line x1="1150.37" y1="472.5" x2="1150.37" y2="478.5" stroke="#111" stroke-width="1.1" />
<line x1="1144.76" y1="472.5" x2="1155.98" y2="472.5" stroke="#111" stroke-width="1.1" />
<line x1="1144.76" y1="478.5" x2="1155.98" y2="478.5" stroke="#111" stroke-width="1.1" />
<polygon points="726.89,441.34 719.95,453.58 733.83,453.58" fill="#d4d4d4" stroke="#111" stroke-width="1.0"/>
<polygon points="726.89,444.04 722.08,452.53 731.7,452.53" fill="#adadad" stroke="none" stroke-width="1"/>
<polygon points="762.18,421.09 755.24,433.33 769.12,433.33" fill="#d4d4d4" stroke="#111" stroke-width="1.0"/>
<polygon points="762.18,423.79 757.37,432.28 766.99,432.28" fill="#adadad" stroke="none" stroke-width="1"/>
<polygon points="797.47,325.09 790.53,337.33 804.41,337.33" fill="#d4d4d4" stroke="#111" stroke-width="1.0"/>
<polygon points="797.47,327.79 792.66,336.28 802.28,336.28" fill="#adadad" stroke="none" stroke-width="1"/>
<polygon points="832.76,371.84 825.82,384.08 839.7,384.08" fill="#d4d4d4" stroke="#111" stroke-width="1.0"/>
<polygon points="832.76,374.54 827.95,383.03 837.57,383.03" fill="#adadad" stroke="none" stroke-width="1"/>
<polygon points="868.05,413.34 861.11,425.58 874.99,425.58" fill="#d4d4d4" stroke="#111" stroke-width="1.0"/>
<polygon points="868.05,416.04 863.24,424.53 872.86,424.53" fill="#adadad" stroke="none" stroke-width="1"/>
<polygon points="903.34,406.34 896.4,418.58 910.28,418.58" fill="#d4d4d4" stroke="#111" stroke-width="1.0"/>
<polygon points="903.34,409.04 898.53,417.53 908.15,417.53" fill="#adadad" stroke="none" stroke-width="1"/>
<polygon points="938.63,392.34 931.69,404.58 945.57,404.58" fill="#d4d4d4" stroke="#111" stroke-width="1.0"/>
<polygon points="938.63,395.04 933.82,403.53 943.44,403.53" fill="#adadad" stroke="none" stroke-width="1"/>
<polygon points="973.92,406.09 966.98,418.33 980.86,418.33" fill="#d4d4d4" stroke="#111" stroke-width="1.0"/>
<polygon points="973.92,408.79 969.11,417.28 978.73,417.28" fill="#adadad" stroke="none" stroke-width="1"/>
<polygon points="1009.21,391.09 1002.27,403.33 1016.15,403.33" fill="#d4d4d4" stroke="#111" stroke-width="1.0"/>
<polygon points="1009.21,393.79 1004.4,402.28 1014.02,402.28" fill="#adadad" stroke="none" stroke-width="1"/>
<polygon points="1044.5,445.84 1037.56,458.08 1051.44,458.08" fill="#d4d4d4" stroke="#111" stroke-width="1.0"/>
<polygon points="1044.5,448.54 1039.69,457.03 1049.31,457.03" fill="#adadad" stroke="none" stroke-width="1"/>
<polygon points="1079.79,454.09 1072.85,466.33 1086.73,466.33" fill="#d4d4d4" stroke="#111" stroke-width="1.0"/>
<polygon points="1079.79,456.79 1074.98,465.28 1084.6,465.28" fill="#adadad" stroke="none" stroke-width="1"/>
<polygon points="1115.08,464.34 1108.14,476.58 1122.02,476.58" fill="#d4d4d4" stroke="#111" stroke-width="1.0"/>
<polygon points="1115.08,467.04 1110.27,475.53 1119.89,475.53" fill="#adadad" stroke="none" stroke-width="1"/>
<polygon points="1150.37,467.34 1143.43,479.58 1157.31,479.58" fill="#d4d4d4" stroke="#111" stroke-width="1.0"/>
<polygon points="1150.37,470.04 1145.56,478.53 1155.18,478.53" fill="#adadad" stroke="none" stroke-width="1"/>
<polyline points="726.89,463 762.18,473 797.47,283 832.76,331.25 868.05,323 903.34,342.25 938.63,393.25 973.92,474.75 1009.21,467 1044.5,475.5 1079.79,480.5 1115.08,480.5 1150.37,480.5" fill="none" stroke="#111" stroke-width="1.0" stroke-linejoin="round"/>
<line x1="726.89" y1="453" x2="726.89" y2="473" stroke="#111" stroke-width="1.1" />
<line x1="721.28" y1="453" x2="732.5" y2="453" stroke="#111" stroke-width="1.1" />
<line x1="721.28" y1="473" x2="732.5" y2="473" stroke="#111" stroke-width="1.1" />
<line x1="762.18" y1="468" x2="762.18" y2="478" stroke="#111" stroke-width="1.1" />
<line x1="756.57" y1="468" x2="767.79" y2="468" stroke="#111" stroke-width="1.1" />
<line x1="756.57" y1="478" x2="767.79" y2="478" stroke="#111" stroke-width="1.1" />
<line x1="797.47" y1="253" x2="797.47" y2="313" stroke="#111" stroke-width="1.1" />
<line x1="791.86" y1="253" x2="803.08" y2="253" stroke="#111" stroke-width="1.1" />
<line x1="791.86" y1="313" x2="803.08" y2="313" stroke="#111" stroke-width="1.1" />
<line x1="832.76" y1="311.5" x2="832.76" y2="351" stroke="#111" stroke-width="1.1" />
<line x1="827.15" y1="311.5" x2="838.37" y2="311.5" stroke="#111" stroke-width="1.1" />
<line x1="827.15" y1="351" x2="838.37" y2="351" stroke="#111" stroke-width="1.1" />
<line x1="868.05" y1="305.25" x2="868.05" y2="340.75" stroke="#111" stroke-width="1.1" />
<line x1="862.44" y1="305.25" x2="873.66" y2="305.25" stroke="#111" stroke-width="1.1" />
<line x1="862.44" y1="340.75" x2="873.66" y2="340.75" stroke="#111" stroke-width="1.1" />
<line x1="903.34" y1="311.25" x2="903.34" y2="373.25" stroke="#111" stroke-width="1.1" />
<line x1="897.73" y1="311.25" x2="908.95" y2="311.25" stroke="#111" stroke-width="1.1" />
<line x1="897.73" y1="373.25" x2="908.95" y2="373.25" stroke="#111" stroke-width="1.1" />
<line x1="938.63" y1="368.25" x2="938.63" y2="418.25" stroke="#111" stroke-width="1.1" />
<line x1="933.02" y1="368.25" x2="944.24" y2="368.25" stroke="#111" stroke-width="1.1" />
<line x1="933.02" y1="418.25" x2="944.24" y2="418.25" stroke="#111" stroke-width="1.1" />
<line x1="973.92" y1="467.25" x2="973.92" y2="482.25" stroke="#111" stroke-width="1.1" />
<line x1="968.31" y1="467.25" x2="979.53" y2="467.25" stroke="#111" stroke-width="1.1" />
<line x1="968.31" y1="482.25" x2="979.53" y2="482.25" stroke="#111" stroke-width="1.1" />
<line x1="1009.21" y1="453" x2="1009.21" y2="481" stroke="#111" stroke-width="1.1" />
<line x1="1003.6" y1="453" x2="1014.82" y2="453" stroke="#111" stroke-width="1.1" />
<line x1="1003.6" y1="481" x2="1014.82" y2="481" stroke="#111" stroke-width="1.1" />
<line x1="1044.5" y1="468" x2="1044.5" y2="483" stroke="#111" stroke-width="1.1" />
<line x1="1038.89" y1="468" x2="1050.11" y2="468" stroke="#111" stroke-width="1.1" />
<line x1="1038.89" y1="483" x2="1050.11" y2="483" stroke="#111" stroke-width="1.1" />
<polygon points="726.89,454.84 719.95,467.08 733.83,467.08" fill="#fff" stroke="#111" stroke-width="1.0"/>
<polygon points="762.18,464.84 755.24,477.08 769.12,477.08" fill="#fff" stroke="#111" stroke-width="1.0"/>
<polygon points="797.47,274.84 790.53,287.08 804.41,287.08" fill="#fff" stroke="#111" stroke-width="1.0"/>
<polygon points="832.76,323.09 825.82,335.33 839.7,335.33" fill="#fff" stroke="#111" stroke-width="1.0"/>
<polygon points="868.05,314.84 861.11,327.08 874.99,327.08" fill="#fff" stroke="#111" stroke-width="1.0"/>
<polygon points="903.34,334.09 896.4,346.33 910.28,346.33" fill="#fff" stroke="#111" stroke-width="1.0"/>
<polygon points="938.63,385.09 931.69,397.33 945.57,397.33" fill="#fff" stroke="#111" stroke-width="1.0"/>
<polygon points="973.92,466.59 966.98,478.83 980.86,478.83" fill="#fff" stroke="#111" stroke-width="1.0"/>
<polygon points="1009.21,458.84 1002.27,471.08 1016.15,471.08" fill="#fff" stroke="#111" stroke-width="1.0"/>
<polygon points="1044.5,467.34 1037.56,479.58 1051.44,479.58" fill="#fff" stroke="#111" stroke-width="1.0"/>
<polygon points="1079.79,472.34 1072.85,484.58 1086.73,484.58" fill="#fff" stroke="#111" stroke-width="1.0"/>
<polygon points="1115.08,472.34 1108.14,484.58 1122.02,484.58" fill="#fff" stroke="#111" stroke-width="1.0"/>
<polygon points="1150.37,472.34 1143.43,484.58 1157.31,484.58" fill="#fff" stroke="#111" stroke-width="1.0"/>
<polyline points="726.89,442.5 762.18,440.75 797.47,349.5 832.76,396.5 868.05,429.75 903.34,410 938.63,442 973.92,431 1009.21,413.5 1044.5,425 1079.79,466.5 1115.08,472 1150.37,474.75" fill="none" stroke="#111" stroke-width="1.0" stroke-linejoin="round"/>
<line x1="726.89" y1="430" x2="726.89" y2="455" stroke="#111" stroke-width="1.1" />
<line x1="721.28" y1="430" x2="732.5" y2="430" stroke="#111" stroke-width="1.1" />
<line x1="721.28" y1="455" x2="732.5" y2="455" stroke="#111" stroke-width="1.1" />
<line x1="762.18" y1="423.25" x2="762.18" y2="458.25" stroke="#111" stroke-width="1.1" />
<line x1="756.57" y1="423.25" x2="767.79" y2="423.25" stroke="#111" stroke-width="1.1" />
<line x1="756.57" y1="458.25" x2="767.79" y2="458.25" stroke="#111" stroke-width="1.1" />
<line x1="797.47" y1="330.5" x2="797.47" y2="368.5" stroke="#111" stroke-width="1.1" />
<line x1="791.86" y1="330.5" x2="803.08" y2="330.5" stroke="#111" stroke-width="1.1" />
<line x1="791.86" y1="368.5" x2="803.08" y2="368.5" stroke="#111" stroke-width="1.1" />
<line x1="832.76" y1="379.25" x2="832.76" y2="413.75" stroke="#111" stroke-width="1.1" />
<line x1="827.15" y1="379.25" x2="838.37" y2="379.25" stroke="#111" stroke-width="1.1" />
<line x1="827.15" y1="413.75" x2="838.37" y2="413.75" stroke="#111" stroke-width="1.1" />
<line x1="868.05" y1="417.25" x2="868.05" y2="442.25" stroke="#111" stroke-width="1.1" />
<line x1="862.44" y1="417.25" x2="873.66" y2="417.25" stroke="#111" stroke-width="1.1" />
<line x1="862.44" y1="442.25" x2="873.66" y2="442.25" stroke="#111" stroke-width="1.1" />
<line x1="903.34" y1="388.5" x2="903.34" y2="431.5" stroke="#111" stroke-width="1.1" />
<line x1="897.73" y1="388.5" x2="908.95" y2="388.5" stroke="#111" stroke-width="1.1" />
<line x1="897.73" y1="431.5" x2="908.95" y2="431.5" stroke="#111" stroke-width="1.1" />
<line x1="938.63" y1="423.5" x2="938.63" y2="460.5" stroke="#111" stroke-width="1.1" />
<line x1="933.02" y1="423.5" x2="944.24" y2="423.5" stroke="#111" stroke-width="1.1" />
<line x1="933.02" y1="460.5" x2="944.24" y2="460.5" stroke="#111" stroke-width="1.1" />
<line x1="973.92" y1="413.5" x2="973.92" y2="448.5" stroke="#111" stroke-width="1.1" />
<line x1="968.31" y1="413.5" x2="979.53" y2="413.5" stroke="#111" stroke-width="1.1" />
<line x1="968.31" y1="448.5" x2="979.53" y2="448.5" stroke="#111" stroke-width="1.1" />
<line x1="1009.21" y1="385.5" x2="1009.21" y2="441.5" stroke="#111" stroke-width="1.1" />
<line x1="1003.6" y1="385.5" x2="1014.82" y2="385.5" stroke="#111" stroke-width="1.1" />
<line x1="1003.6" y1="441.5" x2="1014.82" y2="441.5" stroke="#111" stroke-width="1.1" />
<line x1="1044.5" y1="400" x2="1044.5" y2="450" stroke="#111" stroke-width="1.1" />
<line x1="1038.89" y1="400" x2="1050.11" y2="400" stroke="#111" stroke-width="1.1" />
<line x1="1038.89" y1="450" x2="1050.11" y2="450" stroke="#111" stroke-width="1.1" />
<line x1="1079.79" y1="451.5" x2="1079.79" y2="481.5" stroke="#111" stroke-width="1.1" />
<line x1="1074.18" y1="451.5" x2="1085.4" y2="451.5" stroke="#111" stroke-width="1.1" />
<line x1="1074.18" y1="481.5" x2="1085.4" y2="481.5" stroke="#111" stroke-width="1.1" />
<line x1="1115.08" y1="463.25" x2="1115.08" y2="480.75" stroke="#111" stroke-width="1.1" />
<line x1="1109.47" y1="463.25" x2="1120.69" y2="463.25" stroke="#111" stroke-width="1.1" />
<line x1="1109.47" y1="480.75" x2="1120.69" y2="480.75" stroke="#111" stroke-width="1.1" />
<line x1="1150.37" y1="471.75" x2="1150.37" y2="477.75" stroke="#111" stroke-width="1.1" />
<line x1="1144.76" y1="471.75" x2="1155.98" y2="471.75" stroke="#111" stroke-width="1.1" />
<line x1="1144.76" y1="477.75" x2="1155.98" y2="477.75" stroke="#111" stroke-width="1.1" />
<polygon points="726.89,434.34 719.95,446.58 733.83,446.58" fill="#000" stroke="#111" stroke-width="1.0"/>
<polygon points="762.18,432.59 755.24,444.83 769.12,444.83" fill="#000" stroke="#111" stroke-width="1.0"/>
<polygon points="797.47,341.34 790.53,353.58 804.41,353.58" fill="#000" stroke="#111" stroke-width="1.0"/>
<polygon points="832.76,388.34 825.82,400.58 839.7,400.58" fill="#000" stroke="#111" stroke-width="1.0"/>
<polygon points="868.05,421.59 861.11,433.83 874.99,433.83" fill="#000" stroke="#111" stroke-width="1.0"/>
<polygon points="903.34,401.84 896.4,414.08 910.28,414.08" fill="#000" stroke="#111" stroke-width="1.0"/>
<polygon points="938.63,433.84 931.69,446.08 945.57,446.08" fill="#000" stroke="#111" stroke-width="1.0"/>
<polygon points="973.92,422.84 966.98,435.08 980.86,435.08" fill="#000" stroke="#111" stroke-width="1.0"/>
<polygon points="1009.21,405.34 1002.27,417.58 1016.15,417.58" fill="#000" stroke="#111" stroke-width="1.0"/>
<polygon points="1044.5,416.84 1037.56,429.08 1051.44,429.08" fill="#000" stroke="#111" stroke-width="1.0"/>
<polygon points="1079.79,458.34 1072.85,470.58 1086.73,470.58" fill="#000" stroke="#111" stroke-width="1.0"/>
<polygon points="1115.08,463.84 1108.14,476.08 1122.02,476.08" fill="#000" stroke="#111" stroke-width="1.0"/>
<polygon points="1150.37,466.59 1143.43,478.83 1157.31,478.83" fill="#000" stroke="#111" stroke-width="1.0"/>
<polygon points="209.8,1074.5 245.1,989.3 280.4,917.73 315.7,875.56 351,837.64 386.3,1050.22 421.6,1074.5" fill="#d8d8d8" stroke="none" stroke-width="1"/>
<line x1="139.2" y1="648" x2="139.2" y2="1075.05" stroke="#111" stroke-width="1.1" />
<line x1="138.65" y1="1074.5" x2="633.95" y2="1074.5" stroke="#111" stroke-width="1.1" />
<line x1="139.2" y1="1074.5" x2="139.2" y2="1080" stroke="#111" stroke-width="1.1" />
<text class="sf" x="139.2" y="1105.2" font-size="18.8" text-anchor="middle" fill="#000">3</text>
<line x1="174.5" y1="1074.5" x2="174.5" y2="1080" stroke="#111" stroke-width="1.1" />
<text class="sf" x="174.5" y="1105.2" font-size="18.8" text-anchor="middle" fill="#000">4</text>
<line x1="209.8" y1="1074.5" x2="209.8" y2="1080" stroke="#111" stroke-width="1.1" />
<text class="sf" x="209.8" y="1105.2" font-size="18.8" text-anchor="middle" fill="#000">5</text>
<line x1="245.1" y1="1074.5" x2="245.1" y2="1080" stroke="#111" stroke-width="1.1" />
<text class="sf" x="245.1" y="1105.2" font-size="18.8" text-anchor="middle" fill="#000">6</text>
<line x1="280.4" y1="1074.5" x2="280.4" y2="1080" stroke="#111" stroke-width="1.1" />
<text class="sf" x="280.4" y="1105.2" font-size="18.8" text-anchor="middle" fill="#000">7</text>
<line x1="315.7" y1="1074.5" x2="315.7" y2="1080" stroke="#111" stroke-width="1.1" />
<text class="sf" x="315.7" y="1105.2" font-size="18.8" text-anchor="middle" fill="#000">8</text>
<line x1="351" y1="1074.5" x2="351" y2="1080" stroke="#111" stroke-width="1.1" />
<text class="sf" x="351" y="1105.2" font-size="18.8" text-anchor="middle" fill="#000">9</text>
<line x1="386.3" y1="1074.5" x2="386.3" y2="1080" stroke="#111" stroke-width="1.1" />
<text class="sf" x="386.3" y="1105.2" font-size="18.8" text-anchor="middle" fill="#000">10</text>
<line x1="421.6" y1="1074.5" x2="421.6" y2="1080" stroke="#111" stroke-width="1.1" />
<text class="sf" x="421.6" y="1105.2" font-size="18.8" text-anchor="middle" fill="#000">11</text>
<line x1="456.9" y1="1074.5" x2="456.9" y2="1080" stroke="#111" stroke-width="1.1" />
<text class="sf" x="456.9" y="1105.2" font-size="18.8" text-anchor="middle" fill="#000">12</text>
<line x1="492.2" y1="1074.5" x2="492.2" y2="1080" stroke="#111" stroke-width="1.1" />
<text class="sf" x="492.2" y="1105.2" font-size="18.8" text-anchor="middle" fill="#000">13</text>
<line x1="527.5" y1="1074.5" x2="527.5" y2="1080" stroke="#111" stroke-width="1.1" />
<text class="sf" x="527.5" y="1105.2" font-size="18.8" text-anchor="middle" fill="#000">14</text>
<line x1="562.8" y1="1074.5" x2="562.8" y2="1080" stroke="#111" stroke-width="1.1" />
<text class="sf" x="562.8" y="1105.2" font-size="18.8" text-anchor="middle" fill="#000">15</text>
<line x1="598.1" y1="1074.5" x2="598.1" y2="1080" stroke="#111" stroke-width="1.1" />
<text class="sf" x="598.1" y="1105.2" font-size="18.8" text-anchor="middle" fill="#000">16</text>
<line x1="633.4" y1="1074.5" x2="633.4" y2="1080" stroke="#111" stroke-width="1.1" />
<text class="sf" x="633.4" y="1105.2" font-size="18.8" text-anchor="middle" fill="#000">17</text>
<line x1="133.9" y1="648.5" x2="139.2" y2="648.5" stroke="#111" stroke-width="1.1" />
<text class="sf" x="123.8" y="654.7" font-size="18.8" text-anchor="end" fill="#000">100</text>
<line x1="133.9" y1="733.7" x2="139.2" y2="733.7" stroke="#111" stroke-width="1.1" />
<text class="sf" x="123.8" y="739.9" font-size="18.8" text-anchor="end" fill="#000">80</text>
<line x1="133.9" y1="818.9" x2="139.2" y2="818.9" stroke="#111" stroke-width="1.1" />
<text class="sf" x="123.8" y="825.1" font-size="18.8" text-anchor="end" fill="#000">60</text>
<line x1="133.9" y1="904.1" x2="139.2" y2="904.1" stroke="#111" stroke-width="1.1" />
<text class="sf" x="123.8" y="910.3" font-size="18.8" text-anchor="end" fill="#000">40</text>
<line x1="133.9" y1="989.3" x2="139.2" y2="989.3" stroke="#111" stroke-width="1.1" />
<text class="sf" x="123.8" y="995.5" font-size="18.8" text-anchor="end" fill="#000">20</text>
<line x1="133.9" y1="1074.5" x2="139.2" y2="1074.5" stroke="#111" stroke-width="1.1" />
<text class="sf" x="123.8" y="1080.7" font-size="18.8" text-anchor="end" fill="#000">0</text>
<text class="sf" x="386.3" y="1143.5" font-size="21.8" text-anchor="middle" fill="#000">Age (days)</text>
<text class="ss" x="166.1" y="687.4" font-size="32.5" text-anchor="start" font-weight="bold" fill="#000">C</text>
<polyline points="174.5,1074.5 209.8,1074.5 245.1,1074.5 280.4,1074.5 315.7,1074.5 351,1074.5 386.3,1074.5 421.6,1074.5 456.9,1074.5 492.2,1074.5 527.5,1074.5 562.8,1074.5 598.1,1074.5" fill="none" stroke="#111" stroke-width="1.0" stroke-linejoin="round"/>
<circle cx="174.5" cy="1074.5" r="6.81" fill="#fff" stroke="#111" stroke-width="1.0"/>
<circle cx="209.8" cy="1074.5" r="6.81" fill="#fff" stroke="#111" stroke-width="1.0"/>
<circle cx="245.1" cy="1074.5" r="6.81" fill="#fff" stroke="#111" stroke-width="1.0"/>
<circle cx="280.4" cy="1074.5" r="6.81" fill="#fff" stroke="#111" stroke-width="1.0"/>
<circle cx="315.7" cy="1074.5" r="6.81" fill="#fff" stroke="#111" stroke-width="1.0"/>
<circle cx="351" cy="1074.5" r="6.81" fill="#fff" stroke="#111" stroke-width="1.0"/>
<circle cx="386.3" cy="1074.5" r="6.81" fill="#fff" stroke="#111" stroke-width="1.0"/>
<circle cx="421.6" cy="1074.5" r="6.81" fill="#fff" stroke="#111" stroke-width="1.0"/>
<circle cx="456.9" cy="1074.5" r="6.81" fill="#fff" stroke="#111" stroke-width="1.0"/>
<circle cx="492.2" cy="1074.5" r="6.81" fill="#fff" stroke="#111" stroke-width="1.0"/>
<circle cx="527.5" cy="1074.5" r="6.81" fill="#fff" stroke="#111" stroke-width="1.0"/>
<circle cx="562.8" cy="1074.5" r="6.81" fill="#fff" stroke="#111" stroke-width="1.0"/>
<circle cx="598.1" cy="1074.5" r="6.81" fill="#fff" stroke="#111" stroke-width="1.0"/>
<polyline points="174.5,1074.5 209.8,1074.5 245.1,989.3 280.4,917.73 315.7,875.56 351,837.64 386.3,1050.22 421.6,1074.5 456.9,1074.5 492.2,1074.5 527.5,1074.5 562.8,1074.5 598.1,1074.5" fill="none" stroke="#111" stroke-width="1.0" stroke-linejoin="round"/>
<circle cx="174.5" cy="1074.5" r="6.81" fill="#000" stroke="#111" stroke-width="1.0"/>
<circle cx="209.8" cy="1074.5" r="6.81" fill="#000" stroke="#111" stroke-width="1.0"/>
<circle cx="245.1" cy="989.3" r="6.81" fill="#000" stroke="#111" stroke-width="1.0"/>
<circle cx="280.4" cy="917.73" r="6.81" fill="#000" stroke="#111" stroke-width="1.0"/>
<circle cx="315.7" cy="875.56" r="6.81" fill="#000" stroke="#111" stroke-width="1.0"/>
<circle cx="351" cy="837.64" r="6.81" fill="#000" stroke="#111" stroke-width="1.0"/>
<circle cx="386.3" cy="1050.22" r="6.81" fill="#000" stroke="#111" stroke-width="1.0"/>
<circle cx="421.6" cy="1074.5" r="6.81" fill="#000" stroke="#111" stroke-width="1.0"/>
<circle cx="456.9" cy="1074.5" r="6.81" fill="#000" stroke="#111" stroke-width="1.0"/>
<circle cx="492.2" cy="1074.5" r="6.81" fill="#000" stroke="#111" stroke-width="1.0"/>
<circle cx="527.5" cy="1074.5" r="6.81" fill="#000" stroke="#111" stroke-width="1.0"/>
<circle cx="562.8" cy="1074.5" r="6.81" fill="#000" stroke="#111" stroke-width="1.0"/>
<circle cx="598.1" cy="1074.5" r="6.81" fill="#000" stroke="#111" stroke-width="1.0"/>
<polyline points="174.5,1023.38 209.8,1006.34 245.1,853.41 280.4,921.57 315.7,1005.91 351,943.72 386.3,1008.9 421.6,976.95 456.9,1008.9 492.2,1042.12 527.5,1042.12 562.8,1074.5 598.1,1074.5" fill="none" stroke="#111" stroke-width="1.0" stroke-linejoin="round"/>
<polygon points="174.5,1015.06 167.43,1027.54 181.57,1027.54" fill="#d4d4d4" stroke="#111" stroke-width="1.0"/>
<polygon points="174.5,1017.76 169.55,1026.49 179.45,1026.49" fill="#adadad" stroke="none" stroke-width="1"/>
<polygon points="209.8,998.02 202.73,1010.5 216.87,1010.5" fill="#d4d4d4" stroke="#111" stroke-width="1.0"/>
<polygon points="209.8,1000.72 204.85,1009.45 214.75,1009.45" fill="#adadad" stroke="none" stroke-width="1"/>
<polygon points="245.1,845.09 238.03,857.57 252.17,857.57" fill="#d4d4d4" stroke="#111" stroke-width="1.0"/>
<polygon points="245.1,847.79 240.15,856.52 250.05,856.52" fill="#adadad" stroke="none" stroke-width="1"/>
<polygon points="280.4,913.25 273.33,925.73 287.47,925.73" fill="#d4d4d4" stroke="#111" stroke-width="1.0"/>
<polygon points="280.4,915.95 275.45,924.68 285.35,924.68" fill="#adadad" stroke="none" stroke-width="1"/>
<polygon points="315.7,997.59 308.63,1010.07 322.77,1010.07" fill="#d4d4d4" stroke="#111" stroke-width="1.0"/>
<polygon points="315.7,1000.29 310.75,1009.02 320.65,1009.02" fill="#adadad" stroke="none" stroke-width="1"/>
<polygon points="351,935.4 343.93,947.88 358.07,947.88" fill="#d4d4d4" stroke="#111" stroke-width="1.0"/>
<polygon points="351,938.1 346.05,946.83 355.95,946.83" fill="#adadad" stroke="none" stroke-width="1"/>
<polygon points="386.3,1000.58 379.23,1013.06 393.37,1013.06" fill="#d4d4d4" stroke="#111" stroke-width="1.0"/>
<polygon points="386.3,1003.28 381.35,1012.01 391.25,1012.01" fill="#adadad" stroke="none" stroke-width="1"/>
<polygon points="421.6,968.63 414.53,981.11 428.67,981.11" fill="#d4d4d4" stroke="#111" stroke-width="1.0"/>
<polygon points="421.6,971.33 416.65,980.06 426.55,980.06" fill="#adadad" stroke="none" stroke-width="1"/>
<polygon points="456.9,1000.58 449.83,1013.06 463.97,1013.06" fill="#d4d4d4" stroke="#111" stroke-width="1.0"/>
<polygon points="456.9,1003.28 451.95,1012.01 461.85,1012.01" fill="#adadad" stroke="none" stroke-width="1"/>
<polygon points="492.2,1033.8 485.13,1046.28 499.27,1046.28" fill="#d4d4d4" stroke="#111" stroke-width="1.0"/>
<polygon points="492.2,1036.5 487.25,1045.23 497.15,1045.23" fill="#adadad" stroke="none" stroke-width="1"/>
<polygon points="527.5,1033.8 520.43,1046.28 534.57,1046.28" fill="#d4d4d4" stroke="#111" stroke-width="1.0"/>
<polygon points="527.5,1036.5 522.55,1045.23 532.45,1045.23" fill="#adadad" stroke="none" stroke-width="1"/>
<polygon points="562.8,1066.18 555.73,1078.66 569.87,1078.66" fill="#d4d4d4" stroke="#111" stroke-width="1.0"/>
<polygon points="562.8,1068.88 557.85,1077.61 567.75,1077.61" fill="#adadad" stroke="none" stroke-width="1"/>
<polygon points="598.1,1066.18 591.03,1078.66 605.17,1078.66" fill="#d4d4d4" stroke="#111" stroke-width="1.0"/>
<polygon points="598.1,1068.88 593.15,1077.61 603.05,1077.61" fill="#adadad" stroke="none" stroke-width="1"/>
<polyline points="174.5,1074.5 209.8,1074.5 245.1,950.11 280.4,985.89 315.7,1004.21 351,968 386.3,1074.5 421.6,1074.5 456.9,1074.5 492.2,1074.5 527.5,1074.5 562.8,1074.5 598.1,1074.5" fill="none" stroke="#111" stroke-width="1.0" stroke-linejoin="round"/>
<polygon points="174.5,1066.18 167.43,1078.66 181.57,1078.66" fill="#fff" stroke="#111" stroke-width="1.0"/>
<polygon points="209.8,1066.18 202.73,1078.66 216.87,1078.66" fill="#fff" stroke="#111" stroke-width="1.0"/>
<polygon points="245.1,941.79 238.03,954.27 252.17,954.27" fill="#fff" stroke="#111" stroke-width="1.0"/>
<polygon points="280.4,977.57 273.33,990.05 287.47,990.05" fill="#fff" stroke="#111" stroke-width="1.0"/>
<polygon points="315.7,995.89 308.63,1008.37 322.77,1008.37" fill="#fff" stroke="#111" stroke-width="1.0"/>
<polygon points="351,959.68 343.93,972.16 358.07,972.16" fill="#fff" stroke="#111" stroke-width="1.0"/>
<polygon points="386.3,1066.18 379.23,1078.66 393.37,1078.66" fill="#fff" stroke="#111" stroke-width="1.0"/>
<polygon points="421.6,1066.18 414.53,1078.66 428.67,1078.66" fill="#fff" stroke="#111" stroke-width="1.0"/>
<polygon points="456.9,1066.18 449.83,1078.66 463.97,1078.66" fill="#fff" stroke="#111" stroke-width="1.0"/>
<polygon points="492.2,1066.18 485.13,1078.66 499.27,1078.66" fill="#fff" stroke="#111" stroke-width="1.0"/>
<polygon points="527.5,1066.18 520.43,1078.66 534.57,1078.66" fill="#fff" stroke="#111" stroke-width="1.0"/>
<polygon points="562.8,1066.18 555.73,1078.66 569.87,1078.66" fill="#fff" stroke="#111" stroke-width="1.0"/>
<polygon points="598.1,1066.18 591.03,1078.66 605.17,1078.66" fill="#fff" stroke="#111" stroke-width="1.0"/>
<polyline points="174.5,1000.38 209.8,1018.69 245.1,890.04 280.4,945 315.7,1019.12 351,968.43 386.3,1039.14 421.6,968.43 456.9,933.07 492.2,1003.78 527.5,1074.5 562.8,1074.5 598.1,1074.5" fill="none" stroke="#111" stroke-width="1.0" stroke-linejoin="round"/>
<polygon points="174.5,992.06 167.43,1004.54 181.57,1004.54" fill="#000" stroke="#111" stroke-width="1.0"/>
<polygon points="209.8,1010.37 202.73,1022.85 216.87,1022.85" fill="#000" stroke="#111" stroke-width="1.0"/>
<polygon points="245.1,881.72 238.03,894.2 252.17,894.2" fill="#000" stroke="#111" stroke-width="1.0"/>
<polygon points="280.4,936.68 273.33,949.16 287.47,949.16" fill="#000" stroke="#111" stroke-width="1.0"/>
<polygon points="315.7,1010.8 308.63,1023.28 322.77,1023.28" fill="#000" stroke="#111" stroke-width="1.0"/>
<polygon points="351,960.11 343.93,972.59 358.07,972.59" fill="#000" stroke="#111" stroke-width="1.0"/>
<polygon points="386.3,1030.82 379.23,1043.3 393.37,1043.3" fill="#000" stroke="#111" stroke-width="1.0"/>
<polygon points="421.6,960.11 414.53,972.59 428.67,972.59" fill="#000" stroke="#111" stroke-width="1.0"/>
<polygon points="456.9,924.75 449.83,937.23 463.97,937.23" fill="#000" stroke="#111" stroke-width="1.0"/>
<polygon points="492.2,995.46 485.13,1007.94 499.27,1007.94" fill="#000" stroke="#111" stroke-width="1.0"/>
<polygon points="527.5,1066.18 520.43,1078.66 534.57,1078.66" fill="#000" stroke="#111" stroke-width="1.0"/>
<polygon points="562.8,1066.18 555.73,1078.66 569.87,1078.66" fill="#000" stroke="#111" stroke-width="1.0"/>
<polygon points="598.1,1066.18 591.03,1078.66 605.17,1078.66" fill="#000" stroke="#111" stroke-width="1.0"/>
<polygon points="771.9,1071.3 807.2,986.4 842.5,915.08 877.8,873.06 913.1,835.28 948.4,1047.1 983.7,1071.3" fill="#d8d8d8" stroke="none" stroke-width="1"/>
<line x1="701.3" y1="646.1" x2="701.3" y2="1071.85" stroke="#111" stroke-width="1.1" />
<line x1="700.75" y1="1071.3" x2="1196.05" y2="1071.3" stroke="#111" stroke-width="1.1" />
<line x1="701.3" y1="1071.3" x2="701.3" y2="1076.8" stroke="#111" stroke-width="1.1" />
<text class="sf" x="701.3" y="1104" font-size="18.8" text-anchor="middle" fill="#000">3</text>
<line x1="736.6" y1="1071.3" x2="736.6" y2="1076.8" stroke="#111" stroke-width="1.1" />
<text class="sf" x="736.6" y="1104" font-size="18.8" text-anchor="middle" fill="#000">4</text>
<line x1="771.9" y1="1071.3" x2="771.9" y2="1076.8" stroke="#111" stroke-width="1.1" />
<text class="sf" x="771.9" y="1104" font-size="18.8" text-anchor="middle" fill="#000">5</text>
<line x1="807.2" y1="1071.3" x2="807.2" y2="1076.8" stroke="#111" stroke-width="1.1" />
<text class="sf" x="807.2" y="1104" font-size="18.8" text-anchor="middle" fill="#000">6</text>
<line x1="842.5" y1="1071.3" x2="842.5" y2="1076.8" stroke="#111" stroke-width="1.1" />
<text class="sf" x="842.5" y="1104" font-size="18.8" text-anchor="middle" fill="#000">7</text>
<line x1="877.8" y1="1071.3" x2="877.8" y2="1076.8" stroke="#111" stroke-width="1.1" />
<text class="sf" x="877.8" y="1104" font-size="18.8" text-anchor="middle" fill="#000">8</text>
<line x1="913.1" y1="1071.3" x2="913.1" y2="1076.8" stroke="#111" stroke-width="1.1" />
<text class="sf" x="913.1" y="1104" font-size="18.8" text-anchor="middle" fill="#000">9</text>
<line x1="948.4" y1="1071.3" x2="948.4" y2="1076.8" stroke="#111" stroke-width="1.1" />
<text class="sf" x="948.4" y="1104" font-size="18.8" text-anchor="middle" fill="#000">10</text>
<line x1="983.7" y1="1071.3" x2="983.7" y2="1076.8" stroke="#111" stroke-width="1.1" />
<text class="sf" x="983.7" y="1104" font-size="18.8" text-anchor="middle" fill="#000">11</text>
<line x1="1019" y1="1071.3" x2="1019" y2="1076.8" stroke="#111" stroke-width="1.1" />
<text class="sf" x="1019" y="1104" font-size="18.8" text-anchor="middle" fill="#000">12</text>
<line x1="1054.3" y1="1071.3" x2="1054.3" y2="1076.8" stroke="#111" stroke-width="1.1" />
<text class="sf" x="1054.3" y="1104" font-size="18.8" text-anchor="middle" fill="#000">13</text>
<line x1="1089.6" y1="1071.3" x2="1089.6" y2="1076.8" stroke="#111" stroke-width="1.1" />
<text class="sf" x="1089.6" y="1104" font-size="18.8" text-anchor="middle" fill="#000">14</text>
<line x1="1124.9" y1="1071.3" x2="1124.9" y2="1076.8" stroke="#111" stroke-width="1.1" />
<text class="sf" x="1124.9" y="1104" font-size="18.8" text-anchor="middle" fill="#000">15</text>
<line x1="1160.2" y1="1071.3" x2="1160.2" y2="1076.8" stroke="#111" stroke-width="1.1" />
<text class="sf" x="1160.2" y="1104" font-size="18.8" text-anchor="middle" fill="#000">16</text>
<line x1="1195.5" y1="1071.3" x2="1195.5" y2="1076.8" stroke="#111" stroke-width="1.1" />
<text class="sf" x="1195.5" y="1104" font-size="18.8" text-anchor="middle" fill="#000">17</text>
<line x1="696" y1="646.8" x2="701.3" y2="646.8" stroke="#111" stroke-width="1.1" />
<text class="sf" x="686.2" y="653" font-size="18.8" text-anchor="end" fill="#000">100</text>
<line x1="696" y1="731.7" x2="701.3" y2="731.7" stroke="#111" stroke-width="1.1" />
<text class="sf" x="686.2" y="737.9" font-size="18.8" text-anchor="end" fill="#000">80</text>
<line x1="696" y1="816.6" x2="701.3" y2="816.6" stroke="#111" stroke-width="1.1" />
<text class="sf" x="686.2" y="822.8" font-size="18.8" text-anchor="end" fill="#000">60</text>
<line x1="696" y1="901.5" x2="701.3" y2="901.5" stroke="#111" stroke-width="1.1" />
<text class="sf" x="686.2" y="907.7" font-size="18.8" text-anchor="end" fill="#000">40</text>
<line x1="696" y1="986.4" x2="701.3" y2="986.4" stroke="#111" stroke-width="1.1" />
<text class="sf" x="686.2" y="992.6" font-size="18.8" text-anchor="end" fill="#000">20</text>
<line x1="696" y1="1071.3" x2="701.3" y2="1071.3" stroke="#111" stroke-width="1.1" />
<text class="sf" x="686.2" y="1077.5" font-size="18.8" text-anchor="end" fill="#000">0</text>
<text class="sf" x="948.4" y="1141" font-size="21.8" text-anchor="middle" fill="#000">Age (days)</text>
<text class="ss" x="715" y="687.4" font-size="32.5" text-anchor="start" font-weight="bold" fill="#000">D</text>
<polyline points="736.6,1071.3 771.9,1071.3 807.2,1071.3 842.5,1071.3 877.8,1071.3 913.1,1071.3 948.4,1071.3 983.7,1071.3 1019,1071.3 1054.3,1071.3 1089.6,1071.3 1124.9,1071.3 1160.2,1071.3" fill="none" stroke="#111" stroke-width="1.0" stroke-linejoin="round"/>
<circle cx="736.6" cy="1071.3" r="6.81" fill="#fff" stroke="#111" stroke-width="1.0"/>
<circle cx="771.9" cy="1071.3" r="6.81" fill="#fff" stroke="#111" stroke-width="1.0"/>
<circle cx="807.2" cy="1071.3" r="6.81" fill="#fff" stroke="#111" stroke-width="1.0"/>
<circle cx="842.5" cy="1071.3" r="6.81" fill="#fff" stroke="#111" stroke-width="1.0"/>
<circle cx="877.8" cy="1071.3" r="6.81" fill="#fff" stroke="#111" stroke-width="1.0"/>
<circle cx="913.1" cy="1071.3" r="6.81" fill="#fff" stroke="#111" stroke-width="1.0"/>
<circle cx="948.4" cy="1071.3" r="6.81" fill="#fff" stroke="#111" stroke-width="1.0"/>
<circle cx="983.7" cy="1071.3" r="6.81" fill="#fff" stroke="#111" stroke-width="1.0"/>
<circle cx="1019" cy="1071.3" r="6.81" fill="#fff" stroke="#111" stroke-width="1.0"/>
<circle cx="1054.3" cy="1071.3" r="6.81" fill="#fff" stroke="#111" stroke-width="1.0"/>
<circle cx="1089.6" cy="1071.3" r="6.81" fill="#fff" stroke="#111" stroke-width="1.0"/>
<circle cx="1124.9" cy="1071.3" r="6.81" fill="#fff" stroke="#111" stroke-width="1.0"/>
<circle cx="1160.2" cy="1071.3" r="6.81" fill="#fff" stroke="#111" stroke-width="1.0"/>
<polyline points="736.6,1071.3 771.9,1071.3 807.2,986.4 842.5,915.08 877.8,873.06 913.1,835.28 948.4,1047.1 983.7,1071.3 1019,1071.3 1054.3,1071.3 1089.6,1071.3 1124.9,1071.3 1160.2,1071.3" fill="none" stroke="#111" stroke-width="1.0" stroke-linejoin="round"/>
<circle cx="736.6" cy="1071.3" r="6.81" fill="#000" stroke="#111" stroke-width="1.0"/>
<circle cx="771.9" cy="1071.3" r="6.81" fill="#000" stroke="#111" stroke-width="1.0"/>
<circle cx="807.2" cy="986.4" r="6.81" fill="#000" stroke="#111" stroke-width="1.0"/>
<circle cx="842.5" cy="915.08" r="6.81" fill="#000" stroke="#111" stroke-width="1.0"/>
<circle cx="877.8" cy="873.06" r="6.81" fill="#000" stroke="#111" stroke-width="1.0"/>
<circle cx="913.1" cy="835.28" r="6.81" fill="#000" stroke="#111" stroke-width="1.0"/>
<circle cx="948.4" cy="1047.1" r="6.81" fill="#000" stroke="#111" stroke-width="1.0"/>
<circle cx="983.7" cy="1071.3" r="6.81" fill="#000" stroke="#111" stroke-width="1.0"/>
<circle cx="1019" cy="1071.3" r="6.81" fill="#000" stroke="#111" stroke-width="1.0"/>
<circle cx="1054.3" cy="1071.3" r="6.81" fill="#000" stroke="#111" stroke-width="1.0"/>
<circle cx="1089.6" cy="1071.3" r="6.81" fill="#000" stroke="#111" stroke-width="1.0"/>
<circle cx="1124.9" cy="1071.3" r="6.81" fill="#000" stroke="#111" stroke-width="1.0"/>
<circle cx="1160.2" cy="1071.3" r="6.81" fill="#000" stroke="#111" stroke-width="1.0"/>
<polyline points="736.6,1071.3 771.9,1054.32 807.2,1020.36 842.5,1055.17 877.8,1054.74 913.1,1039.46 948.4,1071.3 983.7,1071.3 1019,1039.04 1054.3,1071.3 1089.6,1071.3 1124.9,1071.3 1160.2,1071.3" fill="none" stroke="#111" stroke-width="1.0" stroke-linejoin="round"/>
<polygon points="736.6,1062.98 729.53,1075.46 743.67,1075.46" fill="#d4d4d4" stroke="#111" stroke-width="1.0"/>
<polygon points="736.6,1065.68 731.65,1074.41 741.55,1074.41" fill="#adadad" stroke="none" stroke-width="1"/>
<polygon points="771.9,1046 764.83,1058.48 778.97,1058.48" fill="#d4d4d4" stroke="#111" stroke-width="1.0"/>
<polygon points="771.9,1048.7 766.95,1057.43 776.85,1057.43" fill="#adadad" stroke="none" stroke-width="1"/>
<polygon points="807.2,1012.04 800.13,1024.52 814.27,1024.52" fill="#d4d4d4" stroke="#111" stroke-width="1.0"/>
<polygon points="807.2,1014.74 802.25,1023.47 812.15,1023.47" fill="#adadad" stroke="none" stroke-width="1"/>
<polygon points="842.5,1046.85 835.43,1059.33 849.57,1059.33" fill="#d4d4d4" stroke="#111" stroke-width="1.0"/>
<polygon points="842.5,1049.55 837.55,1058.28 847.45,1058.28" fill="#adadad" stroke="none" stroke-width="1"/>
<polygon points="877.8,1046.42 870.73,1058.9 884.87,1058.9" fill="#d4d4d4" stroke="#111" stroke-width="1.0"/>
<polygon points="877.8,1049.12 872.85,1057.85 882.75,1057.85" fill="#adadad" stroke="none" stroke-width="1"/>
<polygon points="913.1,1031.14 906.03,1043.62 920.17,1043.62" fill="#d4d4d4" stroke="#111" stroke-width="1.0"/>
<polygon points="913.1,1033.84 908.15,1042.57 918.05,1042.57" fill="#adadad" stroke="none" stroke-width="1"/>
<polygon points="948.4,1062.98 941.33,1075.46 955.47,1075.46" fill="#d4d4d4" stroke="#111" stroke-width="1.0"/>
<polygon points="948.4,1065.68 943.45,1074.41 953.35,1074.41" fill="#adadad" stroke="none" stroke-width="1"/>
<polygon points="983.7,1062.98 976.63,1075.46 990.77,1075.46" fill="#d4d4d4" stroke="#111" stroke-width="1.0"/>
<polygon points="983.7,1065.68 978.75,1074.41 988.65,1074.41" fill="#adadad" stroke="none" stroke-width="1"/>
<polygon points="1019,1030.72 1011.93,1043.2 1026.07,1043.2" fill="#d4d4d4" stroke="#111" stroke-width="1.0"/>
<polygon points="1019,1033.42 1014.05,1042.15 1023.95,1042.15" fill="#adadad" stroke="none" stroke-width="1"/>
<polygon points="1054.3,1062.98 1047.23,1075.46 1061.37,1075.46" fill="#d4d4d4" stroke="#111" stroke-width="1.0"/>
<polygon points="1054.3,1065.68 1049.35,1074.41 1059.25,1074.41" fill="#adadad" stroke="none" stroke-width="1"/>
<polygon points="1089.6,1062.98 1082.53,1075.46 1096.67,1075.46" fill="#d4d4d4" stroke="#111" stroke-width="1.0"/>
<polygon points="1089.6,1065.68 1084.65,1074.41 1094.55,1074.41" fill="#adadad" stroke="none" stroke-width="1"/>
<polygon points="1124.9,1062.98 1117.83,1075.46 1131.97,1075.46" fill="#d4d4d4" stroke="#111" stroke-width="1.0"/>
<polygon points="1124.9,1065.68 1119.95,1074.41 1129.85,1074.41" fill="#adadad" stroke="none" stroke-width="1"/>
<polygon points="1160.2,1062.98 1153.13,1075.46 1167.27,1075.46" fill="#d4d4d4" stroke="#111" stroke-width="1.0"/>
<polygon points="1160.2,1065.68 1155.25,1074.41 1165.15,1074.41" fill="#adadad" stroke="none" stroke-width="1"/>
<polyline points="736.6,1071.3 771.9,1071.3 807.2,948.19 842.5,983.43 877.8,1001.26 913.1,965.17 948.4,1071.3 983.7,1071.3 1019,1071.3 1054.3,1071.3 1089.6,1071.3 1124.9,1071.3 1160.2,1071.3" fill="none" stroke="#111" stroke-width="1.0" stroke-linejoin="round"/>
<polygon points="736.6,1062.98 729.53,1075.46 743.67,1075.46" fill="#fff" stroke="#111" stroke-width="1.0"/>
<polygon points="771.9,1062.98 764.83,1075.46 778.97,1075.46" fill="#fff" stroke="#111" stroke-width="1.0"/>
<polygon points="807.2,939.87 800.13,952.35 814.27,952.35" fill="#fff" stroke="#111" stroke-width="1.0"/>
<polygon points="842.5,975.11 835.43,987.59 849.57,987.59" fill="#fff" stroke="#111" stroke-width="1.0"/>
<polygon points="877.8,992.94 870.73,1005.42 884.87,1005.42" fill="#fff" stroke="#111" stroke-width="1.0"/>
<polygon points="913.1,956.85 906.03,969.33 920.17,969.33" fill="#fff" stroke="#111" stroke-width="1.0"/>
<polygon points="948.4,1062.98 941.33,1075.46 955.47,1075.46" fill="#fff" stroke="#111" stroke-width="1.0"/>
<polygon points="983.7,1062.98 976.63,1075.46 990.77,1075.46" fill="#fff" stroke="#111" stroke-width="1.0"/>
<polygon points="1019,1062.98 1011.93,1075.46 1026.07,1075.46" fill="#fff" stroke="#111" stroke-width="1.0"/>
<polygon points="1054.3,1062.98 1047.23,1075.46 1061.37,1075.46" fill="#fff" stroke="#111" stroke-width="1.0"/>
<polygon points="1089.6,1062.98 1082.53,1075.46 1096.67,1075.46" fill="#fff" stroke="#111" stroke-width="1.0"/>
<polygon points="1124.9,1062.98 1117.83,1075.46 1131.97,1075.46" fill="#fff" stroke="#111" stroke-width="1.0"/>
<polygon points="1160.2,1062.98 1153.13,1075.46 1167.27,1075.46" fill="#fff" stroke="#111" stroke-width="1.0"/>
<polyline points="736.6,1071.3 771.9,1071.3 807.2,1016.12 842.5,1053.9 877.8,1071.3 913.1,1071.3 948.4,1071.3 983.7,1071.3 1019,1071.3 1054.3,1071.3 1089.6,1071.3 1124.9,1071.3 1160.2,1071.3" fill="none" stroke="#111" stroke-width="1.0" stroke-linejoin="round"/>
<polygon points="736.6,1062.98 729.53,1075.46 743.67,1075.46" fill="#000" stroke="#111" stroke-width="1.0"/>
<polygon points="771.9,1062.98 764.83,1075.46 778.97,1075.46" fill="#000" stroke="#111" stroke-width="1.0"/>
<polygon points="807.2,1007.79 800.13,1020.27 814.27,1020.27" fill="#000" stroke="#111" stroke-width="1.0"/>
<polygon points="842.5,1045.58 835.43,1058.06 849.57,1058.06" fill="#000" stroke="#111" stroke-width="1.0"/>
<polygon points="877.8,1062.98 870.73,1075.46 884.87,1075.46" fill="#000" stroke="#111" stroke-width="1.0"/>
<polygon points="913.1,1062.98 906.03,1075.46 920.17,1075.46" fill="#000" stroke="#111" stroke-width="1.0"/>
<polygon points="948.4,1062.98 941.33,1075.46 955.47,1075.46" fill="#000" stroke="#111" stroke-width="1.0"/>
<polygon points="983.7,1062.98 976.63,1075.46 990.77,1075.46" fill="#000" stroke="#111" stroke-width="1.0"/>
<polygon points="1019,1062.98 1011.93,1075.46 1026.07,1075.46" fill="#000" stroke="#111" stroke-width="1.0"/>
<polygon points="1054.3,1062.98 1047.23,1075.46 1061.37,1075.46" fill="#000" stroke="#111" stroke-width="1.0"/>
<polygon points="1089.6,1062.98 1082.53,1075.46 1096.67,1075.46" fill="#000" stroke="#111" stroke-width="1.0"/>
<polygon points="1124.9,1062.98 1117.83,1075.46 1131.97,1075.46" fill="#000" stroke="#111" stroke-width="1.0"/>
<polygon points="1160.2,1062.98 1153.13,1075.46 1167.27,1075.46" fill="#000" stroke="#111" stroke-width="1.0"/>
<line x1="1219.1" y1="109.9" x2="1279" y2="109.9" stroke="#111" stroke-width="1.2" />
<circle cx="1249.05" cy="109.9" r="10.2" fill="#fff" stroke="#111" stroke-width="1.1"/>
<text class="sf" x="1294.4" y="118.2" font-size="26.4" text-anchor="start" textLength="48.6" lengthAdjust="spacingAndGlyphs" fill="#000">REF</text>
<line x1="1220.2" y1="151.4" x2="1280.1" y2="151.4" stroke="#111" stroke-width="1.2" />
<circle cx="1250.15" cy="151.4" r="10.2" fill="#000" stroke="#111" stroke-width="1.1"/>
<text class="sf" x="1295" y="160.4" font-size="26.4" text-anchor="start" textLength="35.8" lengthAdjust="spacingAndGlyphs" fill="#000">RV</text>
<line x1="1221.3" y1="193.4" x2="1281.2" y2="193.4" stroke="#111" stroke-width="1.2" />
<polygon points="1251.25,181.4 1241.1,199.7 1261.4,199.7" fill="#d4d4d4" stroke="#111" stroke-width="1.1"/>
<polygon points="1251.25,184.1 1243.18,198.65 1259.32,198.65" fill="#adadad" stroke="none" stroke-width="1"/>
<text class="sf" x="1295.7" y="200.8" font-size="26.4" text-anchor="start" textLength="160.7" lengthAdjust="spacingAndGlyphs" fill="#000">RV+GOS/FOS</text>
<line x1="1224" y1="231.5" x2="1283.9" y2="231.5" stroke="#111" stroke-width="1.2" />
<polygon points="1253.95,219.5 1243.8,237.8 1264.1,237.8" fill="#fff" stroke="#111" stroke-width="1.1"/>
<text class="sf" x="1298.4" y="240.5" font-size="26.4" text-anchor="start" textLength="109.6" lengthAdjust="spacingAndGlyphs" fill="#000">RV+2'-FL</text>
<line x1="1224" y1="272.3" x2="1283.9" y2="272.3" stroke="#111" stroke-width="1.2" />
<polygon points="1253.95,260.3 1243.8,278.6 1264.1,278.6" fill="#000" stroke="#111" stroke-width="1.1"/>
<text class="sf" x="1298.2" y="280.9" font-size="26.4" text-anchor="start" textLength="235.1" lengthAdjust="spacingAndGlyphs" fill="#000">RV+GOS/FOS+2'-FL</text>
<line x1="384.2" y1="1209.25" x2="384.2" y2="1780.05" stroke="#000" stroke-width="1.7" />
<line x1="383.35" y1="1779.2" x2="1034.1" y2="1779.2" stroke="#000" stroke-width="1.7" />
<text class="sf" x="362.3" y="1788.7" font-size="27.3" text-anchor="end" fill="#000">0.0</text>
<line x1="374.8" y1="1684.35" x2="384" y2="1684.35" stroke="#000" stroke-width="1.7" />
<text class="sf" x="362.3" y="1693.75" font-size="27.3" text-anchor="end" fill="#000">2.5</text>
<line x1="374.8" y1="1589.5" x2="384" y2="1589.5" stroke="#000" stroke-width="1.7" />
<text class="sf" x="362.3" y="1598.9" font-size="27.3" text-anchor="end" fill="#000">5.0</text>
<line x1="374.8" y1="1494.65" x2="384" y2="1494.65" stroke="#000" stroke-width="1.7" />
<text class="sf" x="362.3" y="1504.05" font-size="27.3" text-anchor="end" fill="#000">7.5</text>
<line x1="374.8" y1="1399.8" x2="384" y2="1399.8" stroke="#000" stroke-width="1.7" />
<text class="sf" x="362.3" y="1409.2" font-size="27.3" text-anchor="end" fill="#000">10.0</text>
<line x1="374.8" y1="1304.95" x2="384" y2="1304.95" stroke="#000" stroke-width="1.7" />
<text class="sf" x="362.3" y="1314.75" font-size="27.3" text-anchor="end" fill="#000">12.5</text>
<line x1="374.8" y1="1210.1" x2="384" y2="1210.1" stroke="#000" stroke-width="1.7" />
<text class="sf" x="362.3" y="1218.9" font-size="27.3" text-anchor="end" fill="#000">15.0</text>
<text class="sf" x="293.9" y="1619.2" font-size="37.4" text-anchor="start" textLength="267.6" lengthAdjust="spacingAndGlyphs" transform="rotate(-90 293.9 1619.2)" fill="#000">Fecal weight (mg)</text>
<text class="ss" x="411" y="1224.1" font-size="32.5" text-anchor="start" font-weight="bold" fill="#000">E</text>
<line x1="427.93" y1="1645.65" x2="427.93" y2="1656.65" stroke="#000" stroke-width="1.7" />
<line x1="418.82" y1="1645.65" x2="437.03" y2="1645.65" stroke="#000" stroke-width="1.6" />
<rect x="416.2" y="1656.65" width="23.45" height="122.55" fill="#fff"/>
<rect x="416.2" y="1656.65" width="23.45" height="122.55" fill="none" stroke="#0a0a0a" stroke-width="1.7"/>
<line x1="451.38" y1="1621.37" x2="451.38" y2="1633.51" stroke="#000" stroke-width="1.7" />
<line x1="442.27" y1="1621.37" x2="460.48" y2="1621.37" stroke="#000" stroke-width="1.6" />
<rect x="439.65" y="1633.51" width="23.45" height="145.69" fill="#000"/>
<rect x="439.65" y="1633.51" width="23.45" height="145.69" fill="none" stroke="#0a0a0a" stroke-width="1.7"/>
<line x1="474.82" y1="1552.7" x2="474.82" y2="1565.6" stroke="#000" stroke-width="1.7" />
<line x1="465.72" y1="1552.7" x2="483.93" y2="1552.7" stroke="#000" stroke-width="1.6" />
<rect x="463.1" y="1565.6" width="23.45" height="213.6" fill="#adadad"/>
<rect x="464.45" y="1566.95" width="20.75" height="212.25" fill="none" stroke="#d2d2d2" stroke-width="1"/>
<rect x="463.1" y="1565.6" width="23.45" height="213.6" fill="none" stroke="#0a0a0a" stroke-width="1.7"/>
<line x1="498.27" y1="1631.61" x2="498.27" y2="1647.17" stroke="#000" stroke-width="1.7" />
<line x1="489.17" y1="1631.61" x2="507.38" y2="1631.61" stroke="#000" stroke-width="1.6" />
<rect x="486.55" y="1647.17" width="23.45" height="132.03" fill="#fff"/>
<clipPath id="cb1"><rect x="486.55" y="1647.17" width="23.45" height="132.03"/></clipPath>
<g clip-path="url(#cb1)" stroke="#0a0a0a" stroke-width="1.7">
<line x1="485.55" y1="1625.72" x2="511" y2="1602.31"/>
<line x1="485.55" y1="1642.32" x2="511" y2="1618.91"/>
<line x1="485.55" y1="1658.92" x2="511" y2="1635.51"/>
<line x1="485.55" y1="1675.52" x2="511" y2="1652.11"/>
<line x1="485.55" y1="1692.12" x2="511" y2="1668.71"/>
<line x1="485.55" y1="1708.72" x2="511" y2="1685.31"/>
<line x1="485.55" y1="1725.32" x2="511" y2="1701.91"/>
<line x1="485.55" y1="1741.92" x2="511" y2="1718.51"/>
<line x1="485.55" y1="1758.52" x2="511" y2="1735.11"/>
<line x1="485.55" y1="1775.12" x2="511" y2="1751.71"/>
<line x1="485.55" y1="1791.72" x2="511" y2="1768.31"/>
<line x1="485.55" y1="1808.32" x2="511" y2="1784.91"/>
<line x1="485.55" y1="1824.92" x2="511" y2="1801.51"/>
</g>
<rect x="486.55" y="1647.17" width="23.45" height="132.03" fill="none" stroke="#0a0a0a" stroke-width="1.7"/>
<line x1="521.73" y1="1575.84" x2="521.73" y2="1590.26" stroke="#000" stroke-width="1.7" />
<line x1="512.62" y1="1575.84" x2="530.83" y2="1575.84" stroke="#000" stroke-width="1.6" />
<rect x="510" y="1590.26" width="23.45" height="188.94" fill="#adadad"/>
<rect x="511.35" y="1591.61" width="20.75" height="187.59" fill="none" stroke="#d2d2d2" stroke-width="1"/>
<clipPath id="cb2"><rect x="510" y="1590.26" width="23.45" height="188.94"/></clipPath>
<g clip-path="url(#cb2)" stroke="#0a0a0a" stroke-width="1.7">
<line x1="509" y1="1572.32" x2="534.45" y2="1548.91"/>
<line x1="509" y1="1588.92" x2="534.45" y2="1565.51"/>
<line x1="509" y1="1605.52" x2="534.45" y2="1582.11"/>
<line x1="509" y1="1622.12" x2="534.45" y2="1598.71"/>
<line x1="509" y1="1638.72" x2="534.45" y2="1615.31"/>
<line x1="509" y1="1655.32" x2="534.45" y2="1631.91"/>
<line x1="509" y1="1671.92" x2="534.45" y2="1648.51"/>
<line x1="509" y1="1688.52" x2="534.45" y2="1665.11"/>
<line x1="509" y1="1705.12" x2="534.45" y2="1681.71"/>
<line x1="509" y1="1721.72" x2="534.45" y2="1698.31"/>
<line x1="509" y1="1738.32" x2="534.45" y2="1714.91"/>
<line x1="509" y1="1754.92" x2="534.45" y2="1731.51"/>
<line x1="509" y1="1771.52" x2="534.45" y2="1748.11"/>
<line x1="509" y1="1788.12" x2="534.45" y2="1764.71"/>
<line x1="509" y1="1804.72" x2="534.45" y2="1781.31"/>
<line x1="509" y1="1821.32" x2="534.45" y2="1797.91"/>
</g>
<rect x="510" y="1590.26" width="23.45" height="188.94" fill="none" stroke="#0a0a0a" stroke-width="1.7"/>
<line x1="584.12" y1="1559.15" x2="584.12" y2="1571.67" stroke="#000" stroke-width="1.7" />
<line x1="575.02" y1="1559.15" x2="593.23" y2="1559.15" stroke="#000" stroke-width="1.6" />
<rect x="572.4" y="1571.67" width="23.45" height="207.53" fill="#fff"/>
<rect x="572.4" y="1571.67" width="23.45" height="207.53" fill="none" stroke="#0a0a0a" stroke-width="1.7"/>
<line x1="607.58" y1="1267.2" x2="607.58" y2="1284.08" stroke="#000" stroke-width="1.7" />
<line x1="598.48" y1="1267.2" x2="616.68" y2="1267.2" stroke="#000" stroke-width="1.6" />
<rect x="595.85" y="1284.08" width="23.45" height="495.12" fill="#000"/>
<rect x="595.85" y="1284.08" width="23.45" height="495.12" fill="none" stroke="#0a0a0a" stroke-width="1.7"/>
<line x1="631.02" y1="1337.77" x2="631.02" y2="1355.03" stroke="#000" stroke-width="1.7" />
<line x1="621.92" y1="1337.77" x2="640.12" y2="1337.77" stroke="#000" stroke-width="1.6" />
<rect x="619.3" y="1355.03" width="23.45" height="424.17" fill="#adadad"/>
<rect x="620.65" y="1356.38" width="20.75" height="422.82" fill="none" stroke="#d2d2d2" stroke-width="1"/>
<rect x="619.3" y="1355.03" width="23.45" height="424.17" fill="none" stroke="#0a0a0a" stroke-width="1.7"/>
<line x1="654.48" y1="1380.07" x2="654.48" y2="1399.04" stroke="#000" stroke-width="1.7" />
<line x1="645.38" y1="1380.07" x2="663.58" y2="1380.07" stroke="#000" stroke-width="1.6" />
<rect x="642.75" y="1399.04" width="23.45" height="380.16" fill="#fff"/>
<clipPath id="cb3"><rect x="642.75" y="1399.04" width="23.45" height="380.16"/></clipPath>
<g clip-path="url(#cb3)" stroke="#0a0a0a" stroke-width="1.7">
<line x1="641.75" y1="1375.52" x2="667.2" y2="1352.11"/>
<line x1="641.75" y1="1392.12" x2="667.2" y2="1368.71"/>
<line x1="641.75" y1="1408.72" x2="667.2" y2="1385.31"/>
<line x1="641.75" y1="1425.32" x2="667.2" y2="1401.91"/>
<line x1="641.75" y1="1441.92" x2="667.2" y2="1418.51"/>
<line x1="641.75" y1="1458.52" x2="667.2" y2="1435.11"/>
<line x1="641.75" y1="1475.12" x2="667.2" y2="1451.71"/>
<line x1="641.75" y1="1491.72" x2="667.2" y2="1468.31"/>
<line x1="641.75" y1="1508.32" x2="667.2" y2="1484.91"/>
<line x1="641.75" y1="1524.92" x2="667.2" y2="1501.51"/>
<line x1="641.75" y1="1541.52" x2="667.2" y2="1518.11"/>
<line x1="641.75" y1="1558.12" x2="667.2" y2="1534.71"/>
<line x1="641.75" y1="1574.72" x2="667.2" y2="1551.31"/>
<line x1="641.75" y1="1591.32" x2="667.2" y2="1567.91"/>
<line x1="641.75" y1="1607.92" x2="667.2" y2="1584.51"/>
<line x1="641.75" y1="1624.52" x2="667.2" y2="1601.11"/>
<line x1="641.75" y1="1641.12" x2="667.2" y2="1617.71"/>
<line x1="641.75" y1="1657.72" x2="667.2" y2="1634.31"/>
<line x1="641.75" y1="1674.32" x2="667.2" y2="1650.91"/>
<line x1="641.75" y1="1690.92" x2="667.2" y2="1667.51"/>
<line x1="641.75" y1="1707.52" x2="667.2" y2="1684.11"/>
<line x1="641.75" y1="1724.12" x2="667.2" y2="1700.71"/>
<line x1="641.75" y1="1740.72" x2="667.2" y2="1717.31"/>
<line x1="641.75" y1="1757.32" x2="667.2" y2="1733.91"/>
<line x1="641.75" y1="1773.92" x2="667.2" y2="1750.51"/>
<line x1="641.75" y1="1790.52" x2="667.2" y2="1767.11"/>
<line x1="641.75" y1="1807.12" x2="667.2" y2="1783.71"/>
<line x1="641.75" y1="1823.72" x2="667.2" y2="1800.31"/>
</g>
<rect x="642.75" y="1399.04" width="23.45" height="380.16" fill="none" stroke="#0a0a0a" stroke-width="1.7"/>
<line x1="677.92" y1="1369.64" x2="677.92" y2="1386.52" stroke="#000" stroke-width="1.7" />
<line x1="668.82" y1="1369.64" x2="687.02" y2="1369.64" stroke="#000" stroke-width="1.6" />
<rect x="666.2" y="1386.52" width="23.45" height="392.68" fill="#adadad"/>
<rect x="667.55" y="1387.87" width="20.75" height="391.33" fill="none" stroke="#d2d2d2" stroke-width="1"/>
<clipPath id="cb4"><rect x="666.2" y="1386.52" width="23.45" height="392.68"/></clipPath>
<g clip-path="url(#cb4)" stroke="#0a0a0a" stroke-width="1.7">
<line x1="665.2" y1="1370.52" x2="690.65" y2="1347.11"/>
<line x1="665.2" y1="1387.12" x2="690.65" y2="1363.71"/>
<line x1="665.2" y1="1403.72" x2="690.65" y2="1380.31"/>
<line x1="665.2" y1="1420.32" x2="690.65" y2="1396.91"/>
<line x1="665.2" y1="1436.92" x2="690.65" y2="1413.51"/>
<line x1="665.2" y1="1453.52" x2="690.65" y2="1430.11"/>
<line x1="665.2" y1="1470.12" x2="690.65" y2="1446.71"/>
<line x1="665.2" y1="1486.72" x2="690.65" y2="1463.31"/>
<line x1="665.2" y1="1503.32" x2="690.65" y2="1479.91"/>
<line x1="665.2" y1="1519.92" x2="690.65" y2="1496.51"/>
<line x1="665.2" y1="1536.52" x2="690.65" y2="1513.11"/>
<line x1="665.2" y1="1553.12" x2="690.65" y2="1529.71"/>
<line x1="665.2" y1="1569.72" x2="690.65" y2="1546.31"/>
<line x1="665.2" y1="1586.32" x2="690.65" y2="1562.91"/>
<line x1="665.2" y1="1602.92" x2="690.65" y2="1579.51"/>
<line x1="665.2" y1="1619.52" x2="690.65" y2="1596.11"/>
<line x1="665.2" y1="1636.12" x2="690.65" y2="1612.71"/>
<line x1="665.2" y1="1652.72" x2="690.65" y2="1629.31"/>
<line x1="665.2" y1="1669.32" x2="690.65" y2="1645.91"/>
<line x1="665.2" y1="1685.92" x2="690.65" y2="1662.51"/>
<line x1="665.2" y1="1702.52" x2="690.65" y2="1679.11"/>
<line x1="665.2" y1="1719.12" x2="690.65" y2="1695.71"/>
<line x1="665.2" y1="1735.72" x2="690.65" y2="1712.31"/>
<line x1="665.2" y1="1752.32" x2="690.65" y2="1728.91"/>
<line x1="665.2" y1="1768.92" x2="690.65" y2="1745.51"/>
<line x1="665.2" y1="1785.52" x2="690.65" y2="1762.11"/>
<line x1="665.2" y1="1802.12" x2="690.65" y2="1778.71"/>
<line x1="665.2" y1="1818.72" x2="690.65" y2="1795.31"/>
</g>
<rect x="666.2" y="1386.52" width="23.45" height="392.68" fill="none" stroke="#0a0a0a" stroke-width="1.7"/>
<line x1="740.33" y1="1523.86" x2="740.33" y2="1539.8" stroke="#000" stroke-width="1.7" />
<line x1="731.23" y1="1523.86" x2="749.43" y2="1523.86" stroke="#000" stroke-width="1.6" />
<rect x="728.6" y="1539.8" width="23.45" height="239.4" fill="#fff"/>
<rect x="728.6" y="1539.8" width="23.45" height="239.4" fill="none" stroke="#0a0a0a" stroke-width="1.7"/>
<line x1="763.78" y1="1434.14" x2="763.78" y2="1450.64" stroke="#000" stroke-width="1.7" />
<line x1="754.68" y1="1434.14" x2="772.88" y2="1434.14" stroke="#000" stroke-width="1.6" />
<rect x="752.05" y="1450.64" width="23.45" height="328.56" fill="#000"/>
<rect x="752.05" y="1450.64" width="23.45" height="328.56" fill="none" stroke="#0a0a0a" stroke-width="1.7"/>
<line x1="787.23" y1="1389.94" x2="787.23" y2="1415.73" stroke="#000" stroke-width="1.7" />
<line x1="778.12" y1="1389.94" x2="796.33" y2="1389.94" stroke="#000" stroke-width="1.6" />
<rect x="775.5" y="1415.73" width="23.45" height="363.47" fill="#adadad"/>
<rect x="776.85" y="1417.08" width="20.75" height="362.12" fill="none" stroke="#d2d2d2" stroke-width="1"/>
<rect x="775.5" y="1415.73" width="23.45" height="363.47" fill="none" stroke="#0a0a0a" stroke-width="1.7"/>
<line x1="810.68" y1="1500.72" x2="810.68" y2="1520.83" stroke="#000" stroke-width="1.7" />
<line x1="801.58" y1="1500.72" x2="819.78" y2="1500.72" stroke="#000" stroke-width="1.6" />
<rect x="798.95" y="1520.83" width="23.45" height="258.37" fill="#fff"/>
<clipPath id="cb5"><rect x="798.95" y="1520.83" width="23.45" height="258.37"/></clipPath>
<g clip-path="url(#cb5)" stroke="#0a0a0a" stroke-width="1.7">
<line x1="797.95" y1="1499.14" x2="823.4" y2="1475.73"/>
<line x1="797.95" y1="1515.74" x2="823.4" y2="1492.33"/>
<line x1="797.95" y1="1532.34" x2="823.4" y2="1508.93"/>
<line x1="797.95" y1="1548.94" x2="823.4" y2="1525.53"/>
<line x1="797.95" y1="1565.54" x2="823.4" y2="1542.13"/>
<line x1="797.95" y1="1582.14" x2="823.4" y2="1558.73"/>
<line x1="797.95" y1="1598.74" x2="823.4" y2="1575.33"/>
<line x1="797.95" y1="1615.34" x2="823.4" y2="1591.93"/>
<line x1="797.95" y1="1631.94" x2="823.4" y2="1608.53"/>
<line x1="797.95" y1="1648.54" x2="823.4" y2="1625.13"/>
<line x1="797.95" y1="1665.14" x2="823.4" y2="1641.73"/>
<line x1="797.95" y1="1681.74" x2="823.4" y2="1658.33"/>
<line x1="797.95" y1="1698.34" x2="823.4" y2="1674.93"/>
<line x1="797.95" y1="1714.94" x2="823.4" y2="1691.53"/>
<line x1="797.95" y1="1731.54" x2="823.4" y2="1708.13"/>
<line x1="797.95" y1="1748.14" x2="823.4" y2="1724.73"/>
<line x1="797.95" y1="1764.74" x2="823.4" y2="1741.33"/>
<line x1="797.95" y1="1781.34" x2="823.4" y2="1757.93"/>
<line x1="797.95" y1="1797.94" x2="823.4" y2="1774.53"/>
<line x1="797.95" y1="1814.54" x2="823.4" y2="1791.13"/>
<line x1="797.95" y1="1831.14" x2="823.4" y2="1807.73"/>
</g>
<rect x="798.95" y="1520.83" width="23.45" height="258.37" fill="none" stroke="#0a0a0a" stroke-width="1.7"/>
<line x1="834.12" y1="1390.13" x2="834.12" y2="1416.11" stroke="#000" stroke-width="1.7" />
<line x1="825.02" y1="1390.13" x2="843.23" y2="1390.13" stroke="#000" stroke-width="1.6" />
<rect x="822.4" y="1416.11" width="23.45" height="363.09" fill="#adadad"/>
<rect x="823.75" y="1417.46" width="20.75" height="361.74" fill="none" stroke="#d2d2d2" stroke-width="1"/>
<clipPath id="cb6"><rect x="822.4" y="1416.11" width="23.45" height="363.09"/></clipPath>
<g clip-path="url(#cb6)" stroke="#0a0a0a" stroke-width="1.7">
<line x1="821.4" y1="1389.21" x2="846.85" y2="1365.8"/>
<line x1="821.4" y1="1405.81" x2="846.85" y2="1382.4"/>
<line x1="821.4" y1="1422.41" x2="846.85" y2="1399"/>
<line x1="821.4" y1="1439.01" x2="846.85" y2="1415.6"/>
<line x1="821.4" y1="1455.61" x2="846.85" y2="1432.2"/>
<line x1="821.4" y1="1472.21" x2="846.85" y2="1448.8"/>
<line x1="821.4" y1="1488.81" x2="846.85" y2="1465.4"/>
<line x1="821.4" y1="1505.41" x2="846.85" y2="1482"/>
<line x1="821.4" y1="1522.01" x2="846.85" y2="1498.6"/>
<line x1="821.4" y1="1538.61" x2="846.85" y2="1515.2"/>
<line x1="821.4" y1="1555.21" x2="846.85" y2="1531.8"/>
<line x1="821.4" y1="1571.81" x2="846.85" y2="1548.4"/>
<line x1="821.4" y1="1588.41" x2="846.85" y2="1565"/>
<line x1="821.4" y1="1605.01" x2="846.85" y2="1581.6"/>
<line x1="821.4" y1="1621.61" x2="846.85" y2="1598.2"/>
<line x1="821.4" y1="1638.21" x2="846.85" y2="1614.8"/>
<line x1="821.4" y1="1654.81" x2="846.85" y2="1631.4"/>
<line x1="821.4" y1="1671.41" x2="846.85" y2="1648"/>
<line x1="821.4" y1="1688.01" x2="846.85" y2="1664.6"/>
<line x1="821.4" y1="1704.61" x2="846.85" y2="1681.2"/>
<line x1="821.4" y1="1721.21" x2="846.85" y2="1697.8"/>
<line x1="821.4" y1="1737.81" x2="846.85" y2="1714.4"/>
<line x1="821.4" y1="1754.41" x2="846.85" y2="1731"/>
<line x1="821.4" y1="1771.01" x2="846.85" y2="1747.6"/>
<line x1="821.4" y1="1787.61" x2="846.85" y2="1764.2"/>
<line x1="821.4" y1="1804.21" x2="846.85" y2="1780.8"/>
<line x1="821.4" y1="1820.81" x2="846.85" y2="1797.4"/>
</g>
<rect x="822.4" y="1416.11" width="23.45" height="363.09" fill="none" stroke="#0a0a0a" stroke-width="1.7"/>
<line x1="896.52" y1="1567.31" x2="896.52" y2="1584.19" stroke="#000" stroke-width="1.7" />
<line x1="887.42" y1="1567.31" x2="905.62" y2="1567.31" stroke="#000" stroke-width="1.6" />
<rect x="884.8" y="1584.19" width="23.45" height="195.01" fill="#fff"/>
<rect x="884.8" y="1584.19" width="23.45" height="195.01" fill="none" stroke="#0a0a0a" stroke-width="1.7"/>
<line x1="919.98" y1="1543.59" x2="919.98" y2="1557.25" stroke="#000" stroke-width="1.7" />
<line x1="910.88" y1="1543.59" x2="929.08" y2="1543.59" stroke="#000" stroke-width="1.6" />
<rect x="908.25" y="1557.25" width="23.45" height="221.95" fill="#000"/>
<rect x="908.25" y="1557.25" width="23.45" height="221.95" fill="none" stroke="#0a0a0a" stroke-width="1.7"/>
<line x1="943.42" y1="1347.44" x2="943.42" y2="1369.45" stroke="#000" stroke-width="1.7" />
<line x1="934.32" y1="1347.44" x2="952.52" y2="1347.44" stroke="#000" stroke-width="1.6" />
<rect x="931.7" y="1369.45" width="23.45" height="409.75" fill="#adadad"/>
<rect x="933.05" y="1370.8" width="20.75" height="408.4" fill="none" stroke="#d2d2d2" stroke-width="1"/>
<rect x="931.7" y="1369.45" width="23.45" height="409.75" fill="none" stroke="#0a0a0a" stroke-width="1.7"/>
<line x1="966.88" y1="1497.69" x2="966.88" y2="1516.66" stroke="#000" stroke-width="1.7" />
<line x1="957.77" y1="1497.69" x2="975.98" y2="1497.69" stroke="#000" stroke-width="1.6" />
<rect x="955.15" y="1516.66" width="23.45" height="262.54" fill="#fff"/>
<clipPath id="cb7"><rect x="955.15" y="1516.66" width="23.45" height="262.54"/></clipPath>
<g clip-path="url(#cb7)" stroke="#0a0a0a" stroke-width="1.7">
<line x1="954.15" y1="1490.92" x2="979.6" y2="1467.51"/>
<line x1="954.15" y1="1507.52" x2="979.6" y2="1484.11"/>
<line x1="954.15" y1="1524.12" x2="979.6" y2="1500.71"/>
<line x1="954.15" y1="1540.72" x2="979.6" y2="1517.31"/>
<line x1="954.15" y1="1557.32" x2="979.6" y2="1533.91"/>
<line x1="954.15" y1="1573.92" x2="979.6" y2="1550.51"/>
<line x1="954.15" y1="1590.52" x2="979.6" y2="1567.11"/>
<line x1="954.15" y1="1607.12" x2="979.6" y2="1583.71"/>
<line x1="954.15" y1="1623.72" x2="979.6" y2="1600.31"/>
<line x1="954.15" y1="1640.32" x2="979.6" y2="1616.91"/>
<line x1="954.15" y1="1656.92" x2="979.6" y2="1633.51"/>
<line x1="954.15" y1="1673.52" x2="979.6" y2="1650.11"/>
<line x1="954.15" y1="1690.12" x2="979.6" y2="1666.71"/>
<line x1="954.15" y1="1706.72" x2="979.6" y2="1683.31"/>
<line x1="954.15" y1="1723.32" x2="979.6" y2="1699.91"/>
<line x1="954.15" y1="1739.92" x2="979.6" y2="1716.51"/>
<line x1="954.15" y1="1756.52" x2="979.6" y2="1733.11"/>
<line x1="954.15" y1="1773.12" x2="979.6" y2="1749.71"/>
<line x1="954.15" y1="1789.72" x2="979.6" y2="1766.31"/>
<line x1="954.15" y1="1806.32" x2="979.6" y2="1782.91"/>
<line x1="954.15" y1="1822.92" x2="979.6" y2="1799.51"/>
</g>
<rect x="955.15" y="1516.66" width="23.45" height="262.54" fill="none" stroke="#0a0a0a" stroke-width="1.7"/>
<line x1="990.32" y1="1410.8" x2="990.32" y2="1435.84" stroke="#000" stroke-width="1.7" />
<line x1="981.22" y1="1410.8" x2="999.42" y2="1410.8" stroke="#000" stroke-width="1.6" />
<rect x="978.6" y="1435.84" width="23.45" height="343.36" fill="#adadad"/>
<rect x="979.95" y="1437.19" width="20.75" height="342.01" fill="none" stroke="#d2d2d2" stroke-width="1"/>
<clipPath id="cb8"><rect x="978.6" y="1435.84" width="23.45" height="343.36"/></clipPath>
<g clip-path="url(#cb8)" stroke="#0a0a0a" stroke-width="1.7">
<line x1="977.6" y1="1415.12" x2="1003.05" y2="1391.71"/>
<line x1="977.6" y1="1431.72" x2="1003.05" y2="1408.31"/>
<line x1="977.6" y1="1448.32" x2="1003.05" y2="1424.91"/>
<line x1="977.6" y1="1464.92" x2="1003.05" y2="1441.51"/>
<line x1="977.6" y1="1481.52" x2="1003.05" y2="1458.11"/>
<line x1="977.6" y1="1498.12" x2="1003.05" y2="1474.71"/>
<line x1="977.6" y1="1514.72" x2="1003.05" y2="1491.31"/>
<line x1="977.6" y1="1531.32" x2="1003.05" y2="1507.91"/>
<line x1="977.6" y1="1547.92" x2="1003.05" y2="1524.51"/>
<line x1="977.6" y1="1564.52" x2="1003.05" y2="1541.11"/>
<line x1="977.6" y1="1581.12" x2="1003.05" y2="1557.71"/>
<line x1="977.6" y1="1597.72" x2="1003.05" y2="1574.31"/>
<line x1="977.6" y1="1614.32" x2="1003.05" y2="1590.91"/>
<line x1="977.6" y1="1630.92" x2="1003.05" y2="1607.51"/>
<line x1="977.6" y1="1647.52" x2="1003.05" y2="1624.11"/>
<line x1="977.6" y1="1664.12" x2="1003.05" y2="1640.71"/>
<line x1="977.6" y1="1680.72" x2="1003.05" y2="1657.31"/>
<line x1="977.6" y1="1697.32" x2="1003.05" y2="1673.91"/>
<line x1="977.6" y1="1713.92" x2="1003.05" y2="1690.51"/>
<line x1="977.6" y1="1730.52" x2="1003.05" y2="1707.11"/>
<line x1="977.6" y1="1747.12" x2="1003.05" y2="1723.71"/>
<line x1="977.6" y1="1763.72" x2="1003.05" y2="1740.31"/>
<line x1="977.6" y1="1780.32" x2="1003.05" y2="1756.91"/>
<line x1="977.6" y1="1796.92" x2="1003.05" y2="1773.51"/>
<line x1="977.6" y1="1813.52" x2="1003.05" y2="1790.11"/>
<line x1="977.6" y1="1830.12" x2="1003.05" y2="1806.71"/>
</g>
<rect x="978.6" y="1435.84" width="23.45" height="343.36" fill="none" stroke="#0a0a0a" stroke-width="1.7"/>
<text class="sf" x="474.7" y="1806.8" font-size="26.6" text-anchor="middle" fill="#000">2–5</text>
<text class="sf" x="642.2" y="1806.8" font-size="26.6" text-anchor="middle" fill="#000">6–8</text>
<text class="sf" x="797.5" y="1806.8" font-size="26.6" text-anchor="middle" fill="#000">9–11</text>
<text class="sf" x="956" y="1806.8" font-size="26.6" text-anchor="middle" fill="#000">12–16</text>
<line x1="412.1" y1="1815.3" x2="538" y2="1815.3" stroke="#000" stroke-width="1.7" />
<line x1="576.5" y1="1815.3" x2="848.4" y2="1815.3" stroke="#000" stroke-width="1.7" />
<line x1="888.4" y1="1815.3" x2="1026.8" y2="1815.3" stroke="#000" stroke-width="1.7" />
<text class="sf" x="421.2" y="1857.4" font-size="33.5" text-anchor="start" font-style="italic" textLength="86.5" lengthAdjust="spacingAndGlyphs" fill="#000">Pre-D</text>
<text class="sf" x="699.2" y="1857.4" font-size="33.5" text-anchor="start" font-style="italic" fill="#000">D</text>
<text class="sf" x="905.4" y="1857.4" font-size="33.5" text-anchor="start" font-style="italic" textLength="98.6" lengthAdjust="spacingAndGlyphs" fill="#000">Post-D</text>
<text class="sf" transform="translate(474.6 1525.2) scale(0.95 1.07)" x="0" y="23.5" font-size="50" text-anchor="middle" stroke="#000" stroke-width="0.6">*</text>
<text class="sf" transform="translate(521.5 1549.8) scale(0.95 1.07)" x="0" y="23.5" font-size="50" text-anchor="middle" stroke="#000" stroke-width="0.6">*</text>
<text class="sf" transform="translate(605.4 1241.4) scale(0.95 1.07)" x="0" y="23.5" font-size="50" text-anchor="middle" stroke="#000" stroke-width="0.6">*</text>
<text class="sf" transform="translate(630 1313) scale(0.95 1.07)" x="0" y="23.5" font-size="50" text-anchor="middle" stroke="#000" stroke-width="0.6">*</text>
<text class="sf" transform="translate(655 1353.4) scale(0.95 1.07)" x="0" y="23.5" font-size="50" text-anchor="middle" stroke="#000" stroke-width="0.6">*</text>
<text class="sf" transform="translate(677 1345.7) scale(0.95 1.07)" x="0" y="23.5" font-size="50" text-anchor="middle" stroke="#000" stroke-width="0.6">*</text>
<text class="sf" transform="translate(762.6 1408.6) scale(0.95 1.07)" x="0" y="23.5" font-size="50" text-anchor="middle" stroke="#000" stroke-width="0.6">*</text>
<text class="sf" transform="translate(942 1321.6) scale(0.95 1.07)" x="0" y="23.5" font-size="50" text-anchor="middle" stroke="#000" stroke-width="0.6">*</text>
<text class="sf" x="474.3" y="1496.7" font-size="37" text-anchor="middle" stroke="#000" stroke-width="0.4">#</text>
<text class="sf" x="521.1" y="1521.3" font-size="37" text-anchor="middle" stroke="#000" stroke-width="0.4">#</text>
<text class="sf" x="655" y="1325.2" font-size="37" text-anchor="middle" stroke="#000" stroke-width="0.4">#</text>
<text class="sf" x="809.6" y="1491.5" font-size="37" text-anchor="middle" stroke="#000" stroke-width="0.4">#</text>
<text class="sf" x="941.7" y="1293.5" font-size="37" text-anchor="middle" stroke="#000" stroke-width="0.4">#</text>
<rect x="1209" y="1215.55" width="63.1" height="16.6" fill="#fff" stroke="#111" stroke-width="1.7"/>
<text class="sf" x="1287" y="1232.7" font-size="28" text-anchor="start" textLength="49.9" lengthAdjust="spacingAndGlyphs" fill="#000">REF</text>
<rect x="1209" y="1251.95" width="63.1" height="16.6" fill="#000" stroke="#111" stroke-width="1.7"/>
<text class="sf" x="1287" y="1269.1" font-size="28" text-anchor="start" textLength="38.6" lengthAdjust="spacingAndGlyphs" fill="#000">RV</text>
<rect x="1209" y="1288.95" width="63.1" height="16.6" fill="#adadad" stroke="#111" stroke-width="1.7"/>
<text class="sf" x="1287" y="1306.1" font-size="28" text-anchor="start" textLength="172.8" lengthAdjust="spacingAndGlyphs" fill="#000">RV+GOS/FOS</text>
<rect x="1209" y="1325.15" width="63.1" height="16.6" fill="#fff"/>
<clipPath id="cl3"><rect x="1209" y="1325.15" width="63.1" height="16.6"/></clipPath>
<g stroke="#111" stroke-width="1.9" clip-path="url(#cl3)">
<line x1="1204.5" y1="1341.75" x2="1214.8" y2="1325.15"/>
<line x1="1219.2" y1="1341.75" x2="1233.7" y2="1325.15"/>
<line x1="1237.8" y1="1341.75" x2="1252.4" y2="1325.15"/>
<line x1="1257" y1="1341.75" x2="1271.3" y2="1325.15"/>
</g>
<rect x="1209" y="1325.15" width="63.1" height="16.6" fill="none" stroke="#111" stroke-width="1.7"/>
<text class="sf" x="1287" y="1342.3" font-size="28" text-anchor="start" textLength="117.4" lengthAdjust="spacingAndGlyphs" fill="#000">RV+2'-FL</text>
<rect x="1209" y="1362.05" width="63.1" height="16.6" fill="#adadad"/>
<clipPath id="cl4"><rect x="1209" y="1362.05" width="63.1" height="16.6"/></clipPath>
<g stroke="#111" stroke-width="1.9" clip-path="url(#cl4)">
<line x1="1213.4" y1="1378.65" x2="1227.3" y2="1362.05"/>
<line x1="1232.6" y1="1378.65" x2="1246.5" y2="1362.05"/>
<line x1="1252.1" y1="1378.65" x2="1265.7" y2="1362.05"/>
<line x1="1268.3" y1="1378.65" x2="1282.5" y2="1362.05"/>
</g>
<rect x="1209" y="1362.05" width="63.1" height="16.6" fill="none" stroke="#111" stroke-width="1.7"/>
<text class="sf" x="1287" y="1379.2" font-size="28" text-anchor="start" textLength="254.3" lengthAdjust="spacingAndGlyphs" fill="#000">RV+GOS/FOS+2'-FL</text>
</svg>
</body></html>
